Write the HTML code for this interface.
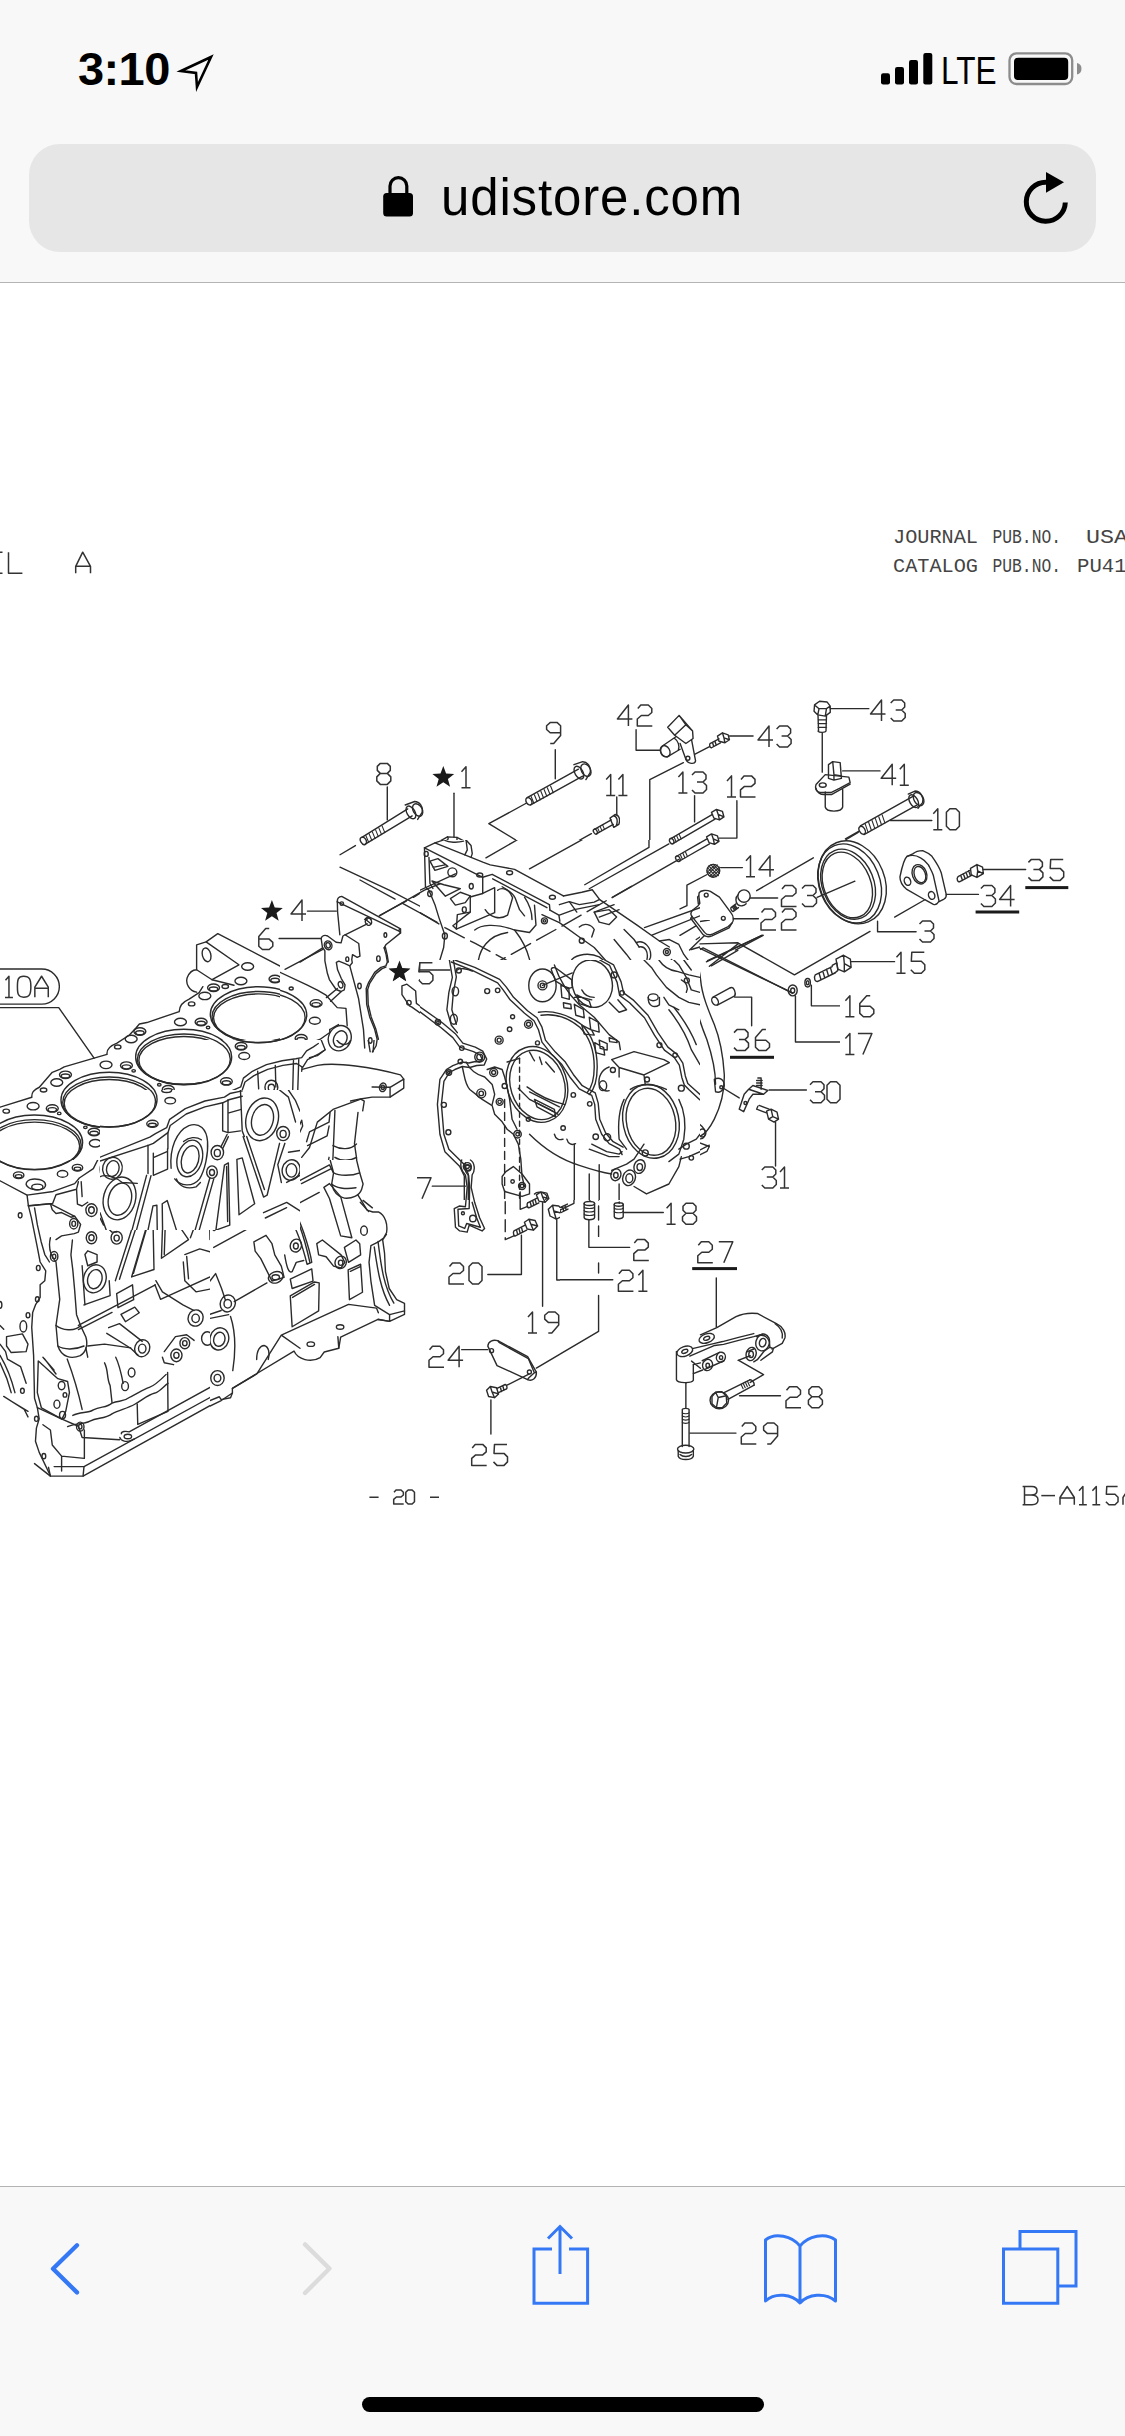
<!DOCTYPE html>
<html><head><meta charset="utf-8">
<style>
html,body{margin:0;padding:0;}
body{width:1125px;height:2436px;position:relative;overflow:hidden;background:#fff;font-family:"Liberation Sans",sans-serif;}
.top{position:absolute;left:0;top:0;width:1125px;height:282px;background:#f8f8f8;}
.sep1{position:absolute;left:0;top:282px;width:1125px;height:1px;background:#b4b4b4;}
.url{position:absolute;left:29px;top:144px;width:1067px;height:108px;border-radius:31px;background:#e6e6e6;}
.time{position:absolute;left:78px;top:41px;font-size:47px;font-weight:bold;color:#000;letter-spacing:-0.6px;}
.lte{position:absolute;left:941px;top:50px;font-size:38px;color:#000;transform:scaleX(0.83);transform-origin:0 0;}
.urltext{position:absolute;left:441px;top:168px;font-size:51px;color:#000;letter-spacing:0.85px;}
.bot{position:absolute;left:0;top:2186px;width:1125px;height:250px;background:#f8f8f8;}
.sep2{position:absolute;left:0;top:2186px;width:1125px;height:1px;background:#b4b4b4;}
.home{position:absolute;left:362px;top:2397px;width:402px;height:15px;border-radius:8px;background:#000;}
svg{position:absolute;left:0;top:0;}
.mono{font-family:"Liberation Mono",monospace;}
</style></head>
<body>
<div class="top"></div>
<div class="sep1"></div>
<div class="url"></div>
<div class="time">3:10</div>
<div class="lte">LTE</div>
<div class="urltext">udistore.com</div>
<div class="bot"></div>
<div class="sep2"></div>
<div class="home"></div>
<svg width="1125" height="2436" viewBox="0 0 1125 2436">
<!-- status bar icons -->
<path d="M181 71 L211 57 L197 87 L196 73 Z" fill="none" stroke="#000" stroke-width="2.6" stroke-linejoin="miter"/>
<rect x="881" y="73.3" width="9" height="11.1" rx="2.2" fill="#000"/>
<rect x="895" y="67.1" width="9" height="17.3" rx="2.2" fill="#000"/>
<rect x="909" y="60" width="9" height="24.4" rx="2.2" fill="#000"/>
<rect x="923.3" y="52.9" width="9" height="31.5" rx="2.2" fill="#000"/>
<rect x="1009.5" y="53.3" width="62.7" height="30.7" rx="7" fill="none" stroke="#8c8c8c" stroke-width="2.3"/>
<rect x="1014" y="57.8" width="54.2" height="22.2" rx="4" fill="#000"/>
<path d="M1077 63 Q1081.5 64 1081.5 68.7 Q1081.5 73.4 1077 74.4 Z" fill="#8c8c8c"/>
<!-- lock -->
<rect x="383.2" y="192.9" width="29.8" height="23.6" rx="3.5" fill="#000"/>
<path d="M390 194 V186 A8.3 8.3 0 0 1 406.8 186 V194" fill="none" stroke="#000" stroke-width="3.2"/>
<!-- reload -->
<path d="M1065.3 202.5 A19.5 19.5 0 1 1 1046 182.3" fill="none" stroke="#000" stroke-width="5"/>
<path d="M1046 172 L1064 182.3 L1046 192.8 Z" fill="#000"/>
<!-- bottom toolbar -->
<path d="M77 2245.3 L53 2268.8 L77 2292.4" fill="none" stroke="#3478f6" stroke-width="4.3" stroke-linecap="round" stroke-linejoin="round"/>
<path d="M305 2244.4 L329.5 2268.6 L305 2293" fill="none" stroke="#dcdcdc" stroke-width="4.3" stroke-linecap="round" stroke-linejoin="round"/>
<path d="M552 2249 H534 V2303.2 H587.6 V2249 H569" fill="none" stroke="#3478f6" stroke-width="3"/>
<path d="M560 2274 V2226.5 M548 2238.5 L560 2226.5 L572 2238.5" fill="none" stroke="#3478f6" stroke-width="3"/>
<path d="M800 2246 C792 2236 775 2232 765.5 2240 V2301 C775 2292 792 2294 800 2303 C808 2294 825 2292 835.5 2301 V2240 C825 2232 808 2236 800 2246 Z M800 2246 V2303" fill="none" stroke="#3478f6" stroke-width="3" stroke-linejoin="round"/>
<rect x="1003.5" y="2249" width="54.3" height="54.3" fill="none" stroke="#3478f6" stroke-width="3"/>
<path d="M1020 2248.5 V2231.5 H1076 V2286 H1059" fill="none" stroke="#3478f6" stroke-width="3"/>
<defs><style>
svg *{vector-effect:non-scaling-stroke;}
.l{fill:none;stroke:#2b2b2b;stroke-width:1.4;vector-effect:non-scaling-stroke;stroke-linejoin:round;stroke-linecap:round;}
.m{fill:none;stroke:#2b2b2b;stroke-width:1.1;vector-effect:non-scaling-stroke;stroke-linejoin:round;stroke-linecap:round;}
.t{fill:none;stroke:#333;stroke-width:1.5;vector-effect:non-scaling-stroke;stroke-linejoin:round;stroke-linecap:butt;}
.f{fill:#2b2b2b;stroke:none;}
.w{fill:#fff;stroke:#2b2b2b;stroke-width:1.4;vector-effect:non-scaling-stroke;stroke-linejoin:round;}
</style>
<clipPath id="c_a2_0_1160"></clipPath>
<clipPath id="c_a3_280_1160"><rect x="420" y="1230" width="140.0" height="170.0"/><rect x="420" y="1200" width="140.0" height="30"/></clipPath>
<clipPath id="c_a4_0_1380"><rect x="0.0" y="1490" width="560.0" height="30.0"/><rect x="420" y="1400.0" width="140.0" height="90.0"/></clipPath>
<clipPath id="c_a_0_920"><rect x="0.0" y="920.0" width="280.0" height="120.0"/><rect x="0.0" y="1040" width="200.0" height="50"/><rect x="0.0" y="1090" width="100.0" height="70.0"/></clipPath>
<clipPath id="c_b_280_920"><rect x="280.0" y="920.0" width="140.0" height="40.0"/><rect x="280.0" y="960" width="140.0" height="80"/></clipPath>
<clipPath id="c_c2_560_1100"><rect x="560.0" y="1200" width="280.0" height="200.0"/><rect x="700" y="1160.0" width="140.0" height="40.0"/></clipPath>
<clipPath id="c_c_560_920"><rect x="700" y="920.0" width="140.0" height="40.0"/><rect x="700" y="960" width="140.0" height="200.0"/></clipPath>
<clipPath id="c_e_340_690"><rect x="280.0" y="680.0" width="340.0" height="160.0"/><rect x="280.0" y="840" width="140.0" height="80.0"/></clipPath>
<clipPath id="c_f_600_690"><rect x="620.0" y="680.0" width="280.0" height="160.0"/><rect x="700" y="840" width="200.0" height="80.0"/></clipPath>
<clipPath id="c_k_420_960"><rect x="420.0" y="960.0" width="280.0" height="240.0"/></clipPath>
<clipPath id="c_m_200_1040"><rect x="200.0" y="1040.0" width="220.0" height="50.0"/><rect x="300" y="1090" width="120.0" height="70"/></clipPath>
<clipPath id="c_n_420_830"><rect x="420.0" y="840.0" width="280.0" height="120.0"/></clipPath>
<clipPath id="c_s1_0_1150"><rect x="0.0" y="1230" width="210.0" height="260.0"/><rect x="0.0" y="1160.0" width="100.0" height="70.0"/></clipPath>
<clipPath id="c_s2_210_1150"><rect x="210.0" y="1230" width="210.0" height="260.0"/><rect x="300" y="1160.0" width="120.0" height="70.0"/></clipPath>
<clipPath id="c_u_100_1090"><rect x="100.0" y="1090.0" width="200.0" height="140.0"/></clipPath>
</defs>
<g clip-path="url(#c_a2_0_1160)"><g transform="translate(0.0,1160.0) scale(0.248889)"><!-- bore A bottom -->
<ellipse class="l" cx="138" cy="-72" rx="193.5" ry="111"/>
<ellipse class="l" cx="139" cy="-63" rx="187" ry="102"/>
<ellipse class="l" cx="139" cy="-59" rx="181" ry="96"/>
<ellipse class="l" cx="75" cy="62" rx="24" ry="15"/><ellipse class="l" cx="75" cy="67" rx="17" ry="8"/>
<ellipse class="l" cx="310" cy="25" rx="24" ry="15"/><ellipse class="l" cx="310" cy="30" rx="17" ry="8"/>
<ellipse class="l" cx="250" cy="55" rx="24" ry="15"/>
<ellipse class="l" cx="148" cy="98" rx="45" ry="28" transform="rotate(-15 148 98)"/>
<ellipse class="l" cx="150" cy="102" rx="25" ry="14" transform="rotate(-15 150 102)"/>
<!-- deck front edge -->
<path class="l" d="M0 82 L105 140 L215 122 L305 92 L370 55 L390 0"/>
<path class="l" d="M105 140 L112 188 L210 190 L222 160 L310 140 L325 120 L340 80"/>
<path class="l" d="M112 188 L122 292 L150 412 L162 470 L182 512 L172 560 L135 592 L128 700 L138 964"/>
<path class="l" d="M135 200 L150 290 L175 400 L200 420 L215 392 L240 380 L240 330 L300 300 L320 260 L310 230 L290 220 L250 240 L215 200 L210 190"/>
<path class="l" d="M240 330 L250 420 L245 500 L265 560 L300 660 L305 760 L270 800 L230 790 L205 720 L215 640 L200 560"/>
<path class="l" d="M290 330 L300 420 L315 520 L330 660 L330 740 L345 800"/>
<path class="l" d="M205 720 C220 700 250 690 285 690 L315 710"/>
<ellipse class="l" cx="370" cy="205" rx="20" ry="26"/><ellipse class="l" cx="370" cy="205" rx="10" ry="13"/>
<ellipse class="l" cx="372" cy="315" rx="20" ry="26"/><ellipse class="l" cx="372" cy="315" rx="10" ry="13"/>
<ellipse class="l" cx="298" cy="262" rx="12" ry="18"/>
<ellipse class="l" cx="222" cy="385" rx="12" ry="18"/>
<ellipse class="l" cx="155" cy="432" rx="8" ry="12"/><ellipse class="l" cx="80" cy="220" rx="7" ry="11"/>
<ellipse class="l" cx="148" cy="555" rx="8" ry="12"/>
<ellipse class="l" cx="385" cy="470" rx="42" ry="55" transform="rotate(15 385 470)"/>
<ellipse class="l" cx="385" cy="472" rx="28" ry="38" transform="rotate(15 385 472)"/>
<path class="l" d="M340 420 L345 580 L440 545 L435 500"/>
<path class="l" d="M335 330 L350 410 L395 400 L380 350"/>
<!-- big oval boss top -->
<ellipse class="l" cx="480" cy="160" rx="70" ry="100" transform="rotate(15 480 160)"/>
<ellipse class="l" cx="482" cy="162" rx="50" ry="75" transform="rotate(15 482 162)"/>
<ellipse class="l" cx="455" cy="35" rx="30" ry="35"/><ellipse class="l" cx="455" cy="35" rx="18" ry="22"/>
<ellipse class="l" cx="465" cy="318" rx="22" ry="28"/><ellipse class="l" cx="465" cy="318" rx="10" ry="14"/>
<path class="l" d="M390 240 L430 300 L440 340 L470 345"/>
<!-- ribs -->
<path class="l" d="M455 485 L600 40 L612 0 M480 492 L620 60 L628 0"/>
<path class="l" d="M528 470 L605 188 L612 438 Z"/>
<path class="l" d="M650 398 L658 170 L718 380 Z"/>
<path class="l" d="M700 260 L640 20 M720 260 L660 20"/>
<path class="l" d="M760 318 L838 55 L845 300 Z"/>
<path class="l" d="M830 290 L905 25 L915 278 Z"/>
<path class="l" d="M950 222 L1015 0 L1022 205 Z"/>
<path class="l" d="M1040 160 L1100 0 M1060 150 L1125 0"/>
<ellipse class="l" cx="850" cy="42" rx="22" ry="28"/><ellipse class="l" cx="850" cy="42" rx="11" ry="14"/>
<ellipse class="l" cx="760" cy="25" rx="50" ry="60"/>
<path class="l" d="M700 60 C720 100 760 110 800 100"/>
<!-- crankcase band -->
<path class="l" d="M310 665 L650 495 L860 385 L1125 240"/>
<path class="l" d="M320 690 L440 640 M600 560 L650 540 L880 430 L1125 300"/>
<path class="l" d="M940 560 L1125 470"/>
<path class="l" d="M620 430 L650 540 L760 620 L800 610 M640 430 C640 470 660 520 720 560"/>
<rect class="l" x="470" y="520" width="60" height="55" transform="rotate(-20 500 547)"/>
<rect class="l" x="485" y="595" width="70" height="35" transform="rotate(-20 520 612)"/>
<!-- bearing caps -->
<path class="l" d="M738 385 L790 368 L810 470 L840 520 L870 560 L905 545 M738 385 L745 480 L780 520 L830 570"/>
<path class="l" d="M800 340 L840 330 L860 420 L890 500 L920 540"/>
<ellipse class="l" cx="912" cy="570" rx="28" ry="32" transform="rotate(20 912 570)"/><ellipse class="l" cx="912" cy="572" rx="15" ry="18" transform="rotate(20 912 572)"/>
<ellipse class="l" cx="790" cy="638" rx="28" ry="32" transform="rotate(20 790 638)"/><ellipse class="l" cx="790" cy="640" rx="15" ry="18" transform="rotate(20 790 640)"/>
<ellipse class="l" cx="572" cy="762" rx="28" ry="32" transform="rotate(20 572 762)"/><ellipse class="l" cx="572" cy="764" rx="15" ry="18" transform="rotate(20 572 764)"/>
<ellipse class="l" cx="880" cy="720" rx="30" ry="36" transform="rotate(20 880 720)"/><ellipse class="l" cx="880" cy="722" rx="17" ry="22" transform="rotate(20 880 722)"/>
<ellipse class="l" cx="835" cy="722" rx="18" ry="25"/>
<ellipse class="l" cx="738" cy="735" rx="12" ry="16"/><ellipse class="l" cx="708" cy="792" rx="14" ry="18"/>
<ellipse class="l" cx="875" cy="870" rx="26" ry="30" transform="rotate(20 875 870)"/><ellipse class="l" cx="876" cy="872" rx="13" ry="16" transform="rotate(20 876 872)"/>
<path class="l" d="M430 680 L540 730 L560 770 M440 700 L540 745 L545 790 M350 750 L470 730 L540 790"/>
<path class="l" d="M660 720 L720 690 L760 720 L760 780 L720 810 L680 800 L650 760 Z"/>
<path class="l" d="M800 850 L850 820 L900 860 L890 900 L845 905 L805 880 Z"/>
<path class="l" d="M730 620 L755 700 M840 610 C870 620 900 640 920 620"/>
<path class="l" d="M930 620 C960 680 960 760 940 840 M945 630 C970 700 968 770 955 840"/>
<path class="l" d="M1065 310 C1040 330 1030 360 1050 390 L1080 430 C1100 460 1125 460 1125 440 M1090 300 L1125 290 M1060 200 L1125 180"/>
<ellipse class="l" cx="1100" cy="465" rx="22" ry="18"/><ellipse class="l" cx="1100" cy="465" rx="11" ry="9"/>
<ellipse class="l" cx="1060" cy="775" rx="22" ry="30"/>
<!-- oil pan rail -->
<path class="l" d="M740 964 L1125 790 M770 964 L1125 812 M930 905 L940 930 M870 940 L880 964"/>
<!-- lower left wavy -->
<path class="l" d="M430 964 C440 920 420 880 445 850 C470 830 460 800 490 790 L520 800 M520 830 C540 860 560 850 600 840 C620 850 660 830 680 860 L700 964"/>
<path class="l" d="M560 964 C575 930 600 920 640 900 L660 940"/>
<ellipse class="l" cx="530" cy="855" rx="15" ry="18"/><ellipse class="l" cx="505" cy="910" rx="12" ry="16"/>
<path class="l" d="M180 790 C200 830 230 870 270 870 L320 964 M180 800 L220 964"/>
<ellipse class="l" cx="255" cy="905" rx="18" ry="22"/><ellipse class="l" cx="255" cy="905" rx="8" ry="11"/>
<path class="l" d="M0 580 C30 590 60 600 70 640 M20 600 C40 620 60 640 70 660"/>
<ellipse class="l" cx="100" cy="670" rx="18" ry="30"/>
<path class="l" d="M0 780 C40 830 80 900 95 964 M0 820 C30 860 60 920 70 964 M30 700 L70 690 L90 720 L95 760 L60 770 L40 740 Z"/>
<ellipse class="l" cx="110" cy="615" rx="8" ry="12"/><ellipse class="l" cx="90" cy="930" rx="8" ry="12"/>
<path class="l" d="M0 520 C10 560 20 600 5 640"/>
</g></g>
<g clip-path="url(#c_a3_280_1160)"><g transform="translate(280.0,1160.0) scale(0.248889)"><!-- block right end bottom -->
<ellipse class="l" cx="45" cy="38" rx="40" ry="46" transform="rotate(15 45 38)"/>
<ellipse class="l" cx="47" cy="40" rx="22" ry="28" transform="rotate(15 47 40)"/>
<path class="l" d="M85 10 L150 0 M0 100 L60 85 L90 60"/>
<path class="l" d="M210 0 L215 70 C230 110 262 120 300 110 L330 100 M292 0 L300 60 L322 92"/>
<path class="l" d="M175 110 L182 160 L222 270 L248 302 M197 100 L240 212 L262 300"/>
<path class="l" d="M60 182 L152 132"/>
<path class="l" d="M40 175 C80 230 108 320 118 415 M60 170 C100 230 124 320 132 410"/>
<path class="l" d="M330 100 L348 195 L400 212 L430 255 L436 300 L415 316 L392 322"/>
<path class="l" d="M352 210 L365 330 L382 480 L392 590 M395 320 L412 470 L440 590"/>
<path class="l" d="M345 300 L360 420 L375 560"/>
<path class="l" d="M382 590 L495 598 L500 640 L440 652 L400 636 L382 590 M440 620 L500 600 M440 620 L440 652"/>
<ellipse class="l" cx="338" cy="280" rx="12" ry="18"/>
<path class="l" d="M0 712 L382 608 M0 742 L440 652"/>
<path class="l" d="M0 800 L100 790 L180 762 L240 745 L330 700 L440 652 M0 820 L100 808 L180 780 L240 765 L330 720"/>
<path class="l" d="M230 700 V745"/>
<ellipse class="l" cx="240" cy="670" rx="14" ry="10"/><ellipse class="l" cx="125" cy="740" rx="14" ry="10"/>
<!-- pipes -->
<ellipse class="l" cx="62" cy="345" rx="22" ry="30" transform="rotate(20 62 345)"/><ellipse class="l" cx="62" cy="347" rx="11" ry="15"/>
<ellipse class="l" cx="238" cy="410" rx="22" ry="28" transform="rotate(20 238 410)"/><ellipse class="l" cx="238" cy="412" rx="11" ry="14"/>
<path class="l" d="M45 318 L0 330 M75 372 L0 400 M150 335 L220 385 M165 318 L255 395"/>
<path class="l" d="M150 335 C140 350 150 370 170 380 L225 435"/>
<!-- windows -->
<path class="l" d="M42 480 L128 440 L135 495 L50 522 Z M55 478 L120 450 L122 490 L58 510"/>
<path class="l" d="M40 540 L150 490 L160 615 L45 665 Z M50 550 L142 505 L150 608 L55 652"/>
<path class="l" d="M268 440 L325 420 L330 545 L275 560 Z"/>
<path class="l" d="M255 350 L300 325 L322 385 L275 400 Z"/>
<path class="l" d="M0 470 L20 460 M0 500 L30 485"/>
<!-- gasket 7 end -->
<path class="l" d="M730 0 C722 20 728 45 745 60 L752 110 L745 188 L720 185 L700 195 L705 270 L722 285 L752 290 L760 262 L812 285 L822 275 L802 232 L782 170 L768 110 L772 60 C786 40 782 10 765 0"/>
<path class="l" d="M745 12 C740 30 745 50 758 62 L762 110 L760 195 L715 198 L718 265 L742 275 L750 255 L805 270 L790 232 L772 170"/>
<circle class="l" cx="756" cy="32" r="12"/><circle class="l" cx="775" cy="235" r="13"/><circle class="l" cx="735" cy="214" r="6"/>
<path class="l" d="M612 105 H745"/>
<!-- cover bottom -->
<path class="l" d="M905 0 V58 L895 78 L900 95 L960 122 L1000 140 L1020 100 L1005 60 L990 0 M925 0 V55 L915 80"/>
<circle class="l" cx="935" cy="86" r="7"/>
<ellipse class="l" cx="975" cy="105" rx="15" ry="18"/>
<path class="l" d="M940 0 L945 40 M960 0 C965 40 980 70 1005 80"/>
<path class="l" d="M905 95 V320 L945 302" stroke-dasharray="12 6"/>
<path class="l" d="M965 128 V198 L995 186"/>
<!-- bolt 19 -->
<path class="l" d="M995 172 L1035 152 M1000 192 L1040 172 M995 172 C990 180 995 194 1000 192 M1005 168 L1010 187 M1015 163 L1020 182 M1025 158 L1030 177"/>
<path class="l" d="M1030 140 L1048 128 L1072 133 L1080 155 L1065 170 L1040 165 Z M1048 128 L1055 148 L1080 155 M1055 148 L1065 170"/>
<path class="l" d="M1055 172 V588"/>
<!-- bolt 20 -->
<path class="l" d="M940 285 L985 262 M946 305 L991 282 M940 285 C935 293 940 307 946 305 M950 280 L955 300 M960 275 L965 295 M970 270 L975 290"/>
<path class="l" d="M982 250 L1000 238 L1025 243 L1035 265 L1018 282 L993 277 Z M1000 238 L1008 258 L1035 265 M1008 258 L1018 282"/>
<path class="l" d="M970 302 V460 H835"/>
<!-- bolt 21 head -->
<path class="l" d="M1078 198 L1095 182 L1120 185 L1125 190 M1078 198 L1085 225 L1110 238 L1125 230 M1095 182 L1100 205 L1125 212 M1100 205 L1110 238"/>
<path class="l" d="M1112 240 V482 H1125"/>
<!-- plate 24 -->
<path class="l" d="M835 748 C836 728 856 720 875 726 L995 790 L1030 852 C1032 878 1012 890 995 882 L872 826 Z"/>
<path class="l" d="M875 726 L880 733 L998 798 L1022 855 L1030 852 M995 882 L1000 875 L1022 855"/>
<circle class="l" cx="850" cy="766" r="8"/><circle class="l" cx="1002" cy="852" r="8"/>
<path class="l" d="M730 762 H835"/>
<!-- bolt 25 -->
<path class="l" d="M830 925 L845 910 L870 915 L878 940 L862 955 L838 950 Z M845 910 L852 932 L878 940 M852 932 L862 955"/>
<path class="l" d="M872 918 L905 902 M878 935 L910 920 M885 912 L890 930 M895 907 L900 925 M905 902 C912 905 914 915 910 920"/>
<path class="l" d="M912 905 L1000 860 M1030 836 L1125 780"/>
</g></g>
<g clip-path="url(#c_a4_0_1380)"><g transform="translate(0.0,1380.0) scale(0.373333)"><path class="l" d="M92 235 L142 262 H222 L690 -2"/>
<path class="l" d="M135 232 H225 L488 80 L600 30 L620 40 L690 2"/>
<path class="l" d="M222 262 V250 L225 232 M142 262 L135 232"/>
<path class="l" d="M320 150 C318 140 338 136 355 144 L488 78 M320 150 C325 162 345 168 360 160"/>
<ellipse class="l" cx="343" cy="152" rx="12" ry="7"/>
<path class="l" d="M92 235 L95 200 L120 190 L110 130 L85 82 L60 50 L22 20 L10 0"/>
<path class="l" d="M130 225 L160 225 L160 200 L150 132 L120 120 L100 72"/>
<path class="l" d="M210 230 L225 120 M165 225 L175 130"/>
<path class="l" d="M100 70 C120 80 150 90 165 110 C180 125 200 130 212 120 C232 100 260 95 282 80 C302 70 322 60 342 55 C372 45 400 40 420 30 L452 18"/>
<path class="l" d="M160 100 C180 108 200 104 222 92 C245 80 262 78 282 65 C305 52 330 46 352 40 C380 32 405 25 430 15"/>
<path class="l" d="M365 62 L440 30 L446 96 L372 122 Z M372 110 L440 84"/>
<ellipse class="l" cx="215" cy="126" rx="10" ry="14"/><ellipse class="l" cx="165" cy="98" rx="8" ry="11"/>
<ellipse class="l" cx="155" cy="66" rx="8" ry="11"/><ellipse class="l" cx="115" cy="202" rx="7" ry="10"/>
<ellipse class="l" cx="95" cy="104" rx="7" ry="10"/><ellipse class="l" cx="335" cy="15" rx="8" ry="11"/>
<ellipse class="l" cx="60" cy="30" rx="7" ry="10"/>
<path class="l" d="M20 0 L30 40 M100 0 L95 70 M210 0 C215 30 220 60 218 90"/>
</g></g>
<g clip-path="url(#c_a_0_920)"><g transform="translate(0.0,920.0) scale(0.248889)"><path class="l" d="M0 197 H168 A70.5 70.5 0 0 1 168 338 H0"/>
<path class="t" d="M22 242 L36 226 V310 M20 311 H52 M95 226 C72 226 70 240 70 268 C70 296 72 310 95 310 C120 310 124 296 124 268 C124 240 120 226 95 226 Z M140 310 V270 L167 226 L194 270 V310 M140 274 H194"/>
<path class="l" d="M0 352 H236 L378 555"/>
<path class="l" d="M0 752 L128 712 C126 695 132 684 158 672 L210 612 L240 600 L258 590 L378 555 L430 540 C428 522 436 508 470 495 L520 462 L548 432 L560 418 L590 412 L720 368 C722 345 730 332 760 318 L800 292 L815 268"/>
<path class="l" d="M790 290 C760 285 745 255 752 232 C760 212 775 200 790 200 L790 100 L828 88 L875 55 L1125 185"/>
<path class="l" d="M828 88 L960 180 L852 240 L790 200"/>
<ellipse class="l" cx="830" cy="140" rx="17" ry="28" transform="rotate(-15 830 140)"/>
<path class="l" d="M852 240 L940 262"/>
<!-- bores -->
<g id="boreset">
<ellipse class="l" cx="438.5" cy="723.5" rx="193.5" ry="111.5"/>
<ellipse class="l" cx="439" cy="733" rx="187" ry="102"/>
<ellipse class="l" cx="439" cy="737" rx="181" ry="96"/>
<ellipse class="l" cx="738.5" cy="550" rx="193.5" ry="111"/>
<ellipse class="l" cx="739" cy="560" rx="187" ry="102"/>
<ellipse class="l" cx="739" cy="564" rx="181" ry="96"/>
<ellipse class="l" cx="1038.5" cy="379" rx="193.5" ry="111"/>
<ellipse class="l" cx="1039" cy="389" rx="187" ry="102"/>
<ellipse class="l" cx="1039" cy="393" rx="181" ry="96"/>
<ellipse class="l" cx="138.5" cy="894.5" rx="193.5" ry="111"/>
<ellipse class="l" cx="139" cy="904" rx="187" ry="102"/>
<ellipse class="l" cx="139" cy="908" rx="181" ry="96"/>
</g>
<!-- bolt holes double ring -->
<g class="l">
<ellipse cx="263" cy="622" rx="24" ry="15"/><ellipse cx="263" cy="627" rx="17" ry="8"/>
<ellipse cx="210" cy="757" rx="24" ry="15"/><ellipse cx="210" cy="762" rx="17" ry="8"/>
<ellipse cx="508" cy="585" rx="24" ry="15"/><ellipse cx="508" cy="590" rx="17" ry="8"/>
<ellipse cx="562" cy="448" rx="24" ry="15"/><ellipse cx="562" cy="453" rx="17" ry="8"/>
<ellipse cx="808" cy="410" rx="24" ry="15"/><ellipse cx="808" cy="415" rx="17" ry="8"/>
<ellipse cx="858" cy="272" rx="24" ry="15"/><ellipse cx="858" cy="277" rx="17" ry="8"/>
<ellipse cx="1105" cy="237" rx="24" ry="15"/><ellipse cx="1105" cy="242" rx="17" ry="8"/>
<ellipse cx="676" cy="680" rx="24" ry="15"/><ellipse cx="676" cy="685" rx="17" ry="8"/>
<ellipse cx="378" cy="852" rx="24" ry="15"/><ellipse cx="378" cy="857" rx="17" ry="8"/>
<ellipse cx="612" cy="820" rx="24" ry="15"/><ellipse cx="612" cy="825" rx="17" ry="8"/>
<ellipse cx="910" cy="648" rx="24" ry="15"/><ellipse cx="910" cy="653" rx="17" ry="8"/>
<ellipse cx="972" cy="505" rx="24" ry="15"/><ellipse cx="972" cy="510" rx="17" ry="8"/>
<ellipse cx="228" cy="653" rx="24" ry="15"/><ellipse cx="133" cy="748" rx="24" ry="15"/>
<ellipse cx="426" cy="582" rx="24" ry="15"/><ellipse cx="527" cy="478" rx="24" ry="15"/>
<ellipse cx="725" cy="410" rx="24" ry="15"/><ellipse cx="823" cy="305" rx="24" ry="15"/>
<ellipse cx="968" cy="245" rx="24" ry="15"/><ellipse cx="995" cy="187" rx="24" ry="15"/>
<ellipse cx="685" cy="725" rx="24" ry="15"/><ellipse cx="383" cy="897" rx="24" ry="15"/>
<ellipse cx="978" cy="548" rx="24" ry="15"/>
<ellipse cx="25" cy="768" rx="13" ry="8"/><ellipse cx="175" cy="683" rx="13" ry="8"/>
<ellipse cx="473" cy="510" rx="13" ry="8"/><ellipse cx="770" cy="337" rx="13" ry="8"/>
<ellipse cx="905" cy="267" rx="13" ry="8"/>
<ellipse cx="238" cy="777" rx="7" ry="5"/><ellipse cx="537" cy="606" rx="7" ry="5"/>
<ellipse cx="836" cy="432" rx="7" ry="5"/><ellipse cx="640" cy="662" rx="7" ry="5"/>
<ellipse cx="343" cy="833" rx="7" ry="5"/><ellipse cx="940" cy="488" rx="7" ry="5"/>
</g>
<!-- deck front edge and block face -->
<path class="l" d="M410 964 L470 930 L560 905 L618 872 L665 846 L668 800 L720 772 L900 702 L975 664 L1020 618 L1125 560"/>
<path class="l" d="M420 964 L478 940 L565 915 L628 885 L675 858 L680 812 L730 785 L905 718 L980 680 L1030 632 L1125 578"/>
<path class="l" d="M620 875 V964 M645 862 V964 M900 705 L902 850 M925 695 L928 860"/>
<path class="l" d="M700 964 C715 880 760 830 800 820 C830 818 842 845 838 880"/>
<path class="l" d="M940 860 L1000 964 M975 665 L980 860 M1050 600 L1060 640"/>
<ellipse class="l" cx="1090" cy="680" rx="28" ry="38" transform="rotate(20 1090 680)"/>
<ellipse class="l" cx="1090" cy="682" rx="14" ry="22" transform="rotate(20 1090 682)"/>
<ellipse class="l" cx="1055" cy="800" rx="50" ry="72" transform="rotate(15 1055 800)"/>
<ellipse class="l" cx="1058" cy="802" rx="38" ry="58" transform="rotate(15 1058 802)"/>
<path class="l" d="M1000 760 C990 830 1000 880 1050 890 L1125 880"/>
<ellipse class="l" cx="875" cy="935" rx="25" ry="32" transform="rotate(20 875 935)"/>
<ellipse class="l" cx="877" cy="937" rx="12" ry="18" transform="rotate(20 877 937)"/>
</g></g>
<g clip-path="url(#c_b_280_920)"><g transform="translate(280.0,920.0) scale(0.248889)"><path class="l" d="M20 198 L172 118"/>
<!-- star 5 -->
<path class="f" d="M480 168 L490 198 L522 198 L496 216 L506 246 L480 228 L454 246 L464 216 L438 198 L470 198 Z"/>
<path class="t" d="M612 172 H562 L558 208 C575 198 610 198 612 222 C614 246 585 252 558 240 M620 200 H690"/>
<!-- gasket 5 -->
<path class="l" d="M490 265 L510 258 L545 285 L548 335 L640 402 L760 492 L800 515 C825 530 838 560 825 578 C810 592 790 582 770 575 L740 590 L700 592 L682 605 L668 648 L660 700 L656 752 L668 850 L690 900 L722 964"/>
<path class="l" d="M490 268 L490 300 L520 345 L530 350 L625 418 L748 508 L780 528 L800 560 L785 570 L745 565 L720 578 L688 585 L662 600 L650 650 L645 700 L642 752 L655 852 L676 905 L705 964"/>
<circle class="l" cx="518" cy="332" r="9"/>
<circle class="l" cx="632" cy="412" r="11"/>
<circle class="l" cx="735" cy="518" r="8"/>
<circle class="l" cx="800" cy="548" r="18"/>
<circle class="l" cx="725" cy="572" r="9"/>
<circle class="l" cx="680" cy="612" r="10"/>
<circle class="l" cx="660" cy="745" r="10"/>
<circle class="l" cx="680" cy="860" r="10"/>
<!-- block right end -->
<ellipse class="l" cx="-86" cy="382" rx="193.5" ry="111"/>
<ellipse class="l" cx="-86" cy="392" rx="187" ry="102"/>
<ellipse class="l" cx="145" cy="335" rx="24" ry="15"/><ellipse class="l" cx="145" cy="340" rx="17" ry="8"/>
<ellipse class="l" cx="140" cy="405" rx="22" ry="14"/>
<ellipse class="l" cx="85" cy="475" rx="24" ry="15"/><ellipse class="l" cx="85" cy="480" rx="17" ry="8"/>
<ellipse class="l" cx="45" cy="275" rx="8" ry="6"/>
<path class="l" d="M0 210 L110 262 L150 282 L185 302 L230 352 L265 355 L270 425"/>
<path class="l" d="M0 528 L60 505 L100 500 L160 480 L200 452 L200 440 M0 545 L95 520 L165 500"/>
<ellipse class="l" cx="240" cy="475" rx="45" ry="52" transform="rotate(25 240 475)"/>
<ellipse class="l" cx="242" cy="478" rx="26" ry="34" transform="rotate(25 242 478)"/>
<path class="l" d="M200 440 L235 420 M148 500 L165 525 L185 530"/>
<!-- ear -->
<path class="l" d="M95 600 L205 585 L330 555 L372 530 L492 615 L496 668 L440 702"/>
<path class="l" d="M280 498 L490 618 L440 640 L440 702 L420 704 C300 660 200 640 100 650"/>
<ellipse class="l" cx="414" cy="675" rx="14" ry="18"/><ellipse class="l" cx="414" cy="675" rx="7" ry="10"/>
<path class="l" d="M100 600 L95 964 M60 560 L55 964 M0 540 L10 964"/>
<path class="l" d="M225 740 C260 760 300 770 330 765 L330 964 M210 760 L205 964 M250 780 L240 964"/>
<path class="l" d="M140 700 C110 780 120 860 160 964"/>
<ellipse class="l" cx="18" cy="850" rx="20" ry="28"/>
<ellipse class="l" cx="18" cy="850" rx="10" ry="15"/>
<!-- front cover left part -->
<path class="l" d="M640 0 L650 45 L655 80 L640 100 L630 130 L660 140 L670 175 L680 200 L690 240 L700 290 L690 330 L680 390 L700 420 L710 460 L700 520"/>
<path class="l" d="M690 0 L700 60 L690 90 L700 120"/>
<ellipse class="l" cx="660" cy="62" rx="10" ry="12"/><ellipse class="l" cx="705" cy="285" rx="10" ry="14"/>
<ellipse class="l" cx="697" cy="402" rx="18" ry="24"/>
<path class="l" d="M688 168 L710 165 L770 200 L850 240 L880 265 L905 300 L930 350 L945 385 L985 400 L1010 440 L1040 470 L1080 500 L1125 520"/>
<path class="l" d="M700 185 L760 215 L840 255 L868 285 L890 330 L915 370 L960 395"/>
<circle class="l" cx="718" cy="205" r="9"/>
<circle class="l" cx="830" cy="285" r="9"/><circle class="l" cx="875" cy="285" r="9"/>
<circle class="l" cx="932" cy="385" r="8"/><circle class="l" cx="998" cy="412" r="14"/>
<circle class="l" cx="922" cy="437" r="9"/><circle class="l" cx="880" cy="488" r="15"/><circle class="l" cx="880" cy="488" r="7"/>
<circle class="l" cx="1035" cy="495" r="9"/>
<path class="l" d="M860 345 C870 380 860 420 870 460 M850 340 C860 380 850 420 858 460"/>
<path class="l" d="M800 0 C790 60 800 120 830 140 L900 180 L960 200 L985 215"/>
<path class="l" d="M760 0 L780 130 L800 190"/>
<path class="l" d="M830 190 L910 140 L975 100 M780 0 L1000 0"/>
<path class="l" d="M700 0 C750 20 820 40 900 40 L1000 30 L1125 40"/>
<path class="l" d="M990 0 C1020 20 1040 30 1125 25"/>
<ellipse class="l" cx="1060" cy="265" rx="55" ry="75"/>
<ellipse class="l" cx="1055" cy="265" rx="18" ry="22"/><ellipse class="l" cx="1055" cy="265" rx="9" ry="11"/>
<path class="l" d="M1060 265 L1125 230"/>
<path class="l" d="M1095 195 C1110 200 1120 205 1125 215"/>
<path class="l" d="M1040 380 C1070 360 1100 355 1125 360 M1040 390 C1070 372 1100 368 1125 372"/>
<path class="l" d="M860 600 C890 560 930 530 1000 520 C1060 515 1110 540 1125 560"/>
<path class="l" d="M960 555 L965 964 M958 555 L960 964" stroke-dasharray="6 5"/>
<path class="l" d="M905 600 L905 964 M880 560 L880 964" stroke-dasharray="6 5"/>
<ellipse class="l" cx="862" cy="610" rx="18" ry="20"/><ellipse class="l" cx="862" cy="610" rx="9" ry="10"/>
<ellipse class="l" cx="810" cy="700" rx="22" ry="25"/><ellipse class="l" cx="810" cy="700" rx="10" ry="13"/>
<circle class="l" cx="905" cy="665" r="9"/><circle class="l" cx="880" cy="730" r="9"/>
<circle class="l" cx="1000" cy="800" r="8"/><circle class="l" cx="955" cy="860" r="11"/>
<path class="l" d="M740 590 L745 660 L770 690 L790 725 L830 740 L860 760"/>
<path class="l" d="M950 680 L1050 760 L1100 820 M960 700 L1040 770 M1020 730 L1080 770"/>
<path class="l" d="M1005 520 L1020 560 L1050 570 L1080 600 L1100 620"/>
</g></g>
<g clip-path="url(#c_c2_560_1100)"><g transform="translate(560.0,1100.0) scale(0.248889)"><!-- cover bottom continuing -->
<ellipse class="l" cx="365" cy="67" rx="118" ry="140" transform="rotate(8 365 67)"/>
<ellipse class="l" cx="365" cy="72" rx="100" ry="125" transform="rotate(8 365 72)"/>
<path class="l" d="M205 300 C205 285 220 275 240 280 L292 250 L312 240 C332 235 346 250 346 270 L350 345 L336 376 L320 370 L270 340 L236 326 C216 326 205 316 205 300 Z"/>
<path class="l" d="M240 280 C260 290 262 318 245 325 M312 240 C330 250 336 280 320 292"/>
<ellipse class="l" cx="224" cy="303" rx="13" ry="17"/><ellipse class="l" cx="224" cy="303" rx="5" ry="7"/>
<ellipse class="l" cx="278" cy="316" rx="18" ry="23"/><ellipse class="l" cx="278" cy="316" rx="10" ry="13"/>
<ellipse class="l" cx="322" cy="268" rx="18" ry="23"/><ellipse class="l" cx="322" cy="268" rx="10" ry="13"/>
<path class="l" d="M346 376 L440 312 L490 246 L480 232 L520 200 L560 182 L600 190 L605 160 L575 122"/>
<path class="l" d="M480 232 L520 250 L600 215 L600 190 M520 200 L530 235"/>
<circle class="l" cx="512" cy="180" r="9"/><circle class="l" cx="522" cy="236" r="9"/><circle class="l" cx="572" cy="140" r="14"/><circle class="l" cx="572" cy="140" r="6"/>
<path class="l" d="M0 230 L150 296 L205 300 M60 180 L130 160 L232 200 L252 222 L240 240 L185 238"/>
<path class="l" d="M115 185 L230 235 M120 200 L225 245"/>
<path class="l" d="M290 250 L280 160 L270 180 M300 240 L290 170"/>
<path class="l" d="M0 150 L60 190 M0 120 C30 130 50 150 55 170"/>
<circle class="l" cx="45" cy="160" r="14"/><circle class="l" cx="145" cy="150" r="10"/><circle class="l" cx="245" cy="210" r="12"/>
<!-- dashed leaders -->
<path class="l" d="M155 265 V548" stroke-dasharray="14 6"/>
<path class="l" d="M120 300 V410 M238 345 V415" stroke-dasharray="10 6"/>
<path class="l" d="M56 200 V415 L0 442"/>
<!-- stud 2 -->
<ellipse class="l" cx="118" cy="416" rx="21" ry="8"/>
<path class="l" d="M97 416 V472 C100 484 136 484 139 472 V416"/>
<path class="m" d="M97 430 C100 438 136 438 139 430 M97 444 C100 452 136 452 139 444 M97 458 C100 466 136 466 139 458"/>
<path class="l" d="M116 482 V592 H280"/>
<!-- stud 18 -->
<ellipse class="l" cx="236" cy="420" rx="18" ry="7"/>
<path class="l" d="M218 420 V468 C221 480 251 480 254 468 V420"/>
<path class="m" d="M218 434 C221 441 251 441 254 434 M218 448 C221 455 251 455 254 448"/>
<path class="l" d="M256 452 H415"/>
<!-- bolt 21 head and thread -->
<path class="l" d="M-50 440 L-33 424 L-8 427 L2 450 L-12 468 L-38 463 Z M-33 424 L-22 446 L2 450 M-22 446 L-12 468"/>
<path class="l" d="M0 432 L30 418 M5 452 L32 438 M10 428 L15 447 M20 424 L25 442"/>
<!-- leader 21 -->
<path class="l" d="M0 722 H212"/>
<path class="l" d="M155 655 V700" stroke-dasharray="10 6"/>
<path class="l" d="M155 785 V930 L0 1021"/>
<!-- bracket 30 bottom / bolt 31 -->
<path class="l" d="M720 0 L722 45 L740 50 L768 10 L770 0"/>
<circle class="l" cx="747" cy="12" r="6"/>
<path class="l" d="M790 32 L828 48 M800 20 L838 36 M795 24 L792 34"/>
<path class="l" d="M828 42 L846 32 L872 42 L878 72 L860 86 L836 74 Z M846 32 L855 60 L836 74 M855 60 L878 72"/>
<path class="l" d="M866 88 V265"/>
<!-- bracket 27 top -->
<path class="l" d="M628 715 V912"/>
</g></g>
<g clip-path="url(#c_c_560_920)"><g transform="translate(560.0,920.0) scale(0.248889)"><!-- leaders/assembly lines -->
<path class="l" d="M588 168 L812 62 M600 186 L718 94"/>
<path class="l" d="M540 130 L575 112 L935 295"/>
<path class="l" d="M946 305 V490 H1125 M1010 262 V345 H1125"/>
<ellipse class="l" cx="935" cy="283" rx="18" ry="22"/><ellipse class="l" cx="935" cy="283" rx="8" ry="10"/>
<ellipse class="l" cx="995" cy="252" rx="11" ry="17"/><ellipse class="l" cx="995" cy="252" rx="5" ry="8"/>
<!-- pin 36 -->
<path class="l" d="M615 310 L685 272 M632 342 L702 305"/>
<ellipse class="l" cx="623" cy="326" rx="12" ry="17" transform="rotate(-30 623 326)"/>
<path class="l" d="M685 272 C700 268 708 295 702 305"/>
<path class="l" d="M702 310 H770 V425"/>
<!-- bracket 30 -->
<path class="l" d="M795 635 L808 635 L808 680 M790 645 H812 M790 655 H812 M790 665 H812"/>
<path class="l" d="M758 680 L775 665 L835 685 L818 700 Z M758 680 L740 700 L720 760 L738 770 L760 720 L775 700 L818 700"/>
<circle class="l" cx="745" cy="735" r="6"/>
<path class="l" d="M840 683 H990"/>
<!-- bolt 31 -->
<path class="l" d="M790 760 L830 775 M800 745 L840 760 M795 748 L790 760"/>
<path class="l" d="M830 768 L848 760 L872 772 L878 800 L860 812 L838 800 Z M848 760 L855 790 L838 800 M855 790 L878 800"/>
<path class="l" d="M866 812 V964"/>
<path class="l" d="M655 675 L720 715"/>
<!-- cover right edge -->
<path class="l" d="M520 120 C545 150 560 190 565 240 C570 300 595 360 620 420 C640 470 655 540 660 620 C662 690 650 740 620 800 C600 840 585 860 560 870"/>
<path class="l" d="M495 125 C515 170 535 230 540 300 C545 360 565 420 590 480 C610 540 625 600 625 660"/>
<path class="l" d="M460 0 C480 30 490 60 505 100 L520 120"/>
<path class="l" d="M620 640 C640 630 660 640 660 665 C655 690 640 695 625 690 Z"/>
<circle class="l" cx="648" cy="672" r="6"/>
<path class="l" d="M560 820 C575 830 590 850 580 870 C570 885 555 880 550 870"/>
<ellipse class="l" cx="572" cy="856" rx="14" ry="16"/>
<!-- big crank opening -->
<ellipse class="l" cx="365" cy="790" rx="118" ry="140" transform="rotate(8 365 790)"/>
<ellipse class="l" cx="365" cy="795" rx="100" ry="125" transform="rotate(8 365 795)"/>
<path class="l" d="M235 660 C260 630 300 620 340 625 M200 720 C210 680 230 650 260 640"/>
<path class="l" d="M440 690 L470 700 L500 770 L505 900 M470 700 L520 690"/>
<!-- cam circle left -->
<ellipse class="l" cx="130" cy="255" rx="85" ry="105" transform="rotate(-10 130 255)"/>
<path class="l" d="M0 360 C60 420 110 520 140 640 M0 385 C50 440 95 530 120 640"/>
<path class="l" d="M0 560 C30 620 35 700 20 780 M0 590 C20 640 25 700 10 760"/>
<!-- cover web -->
<path class="l" d="M0 20 L80 70 L110 85 L150 120 L200 180 L215 220 L250 290 L290 330 L330 390 L360 450 L390 500 L420 520 L460 540 L480 590 L480 650 L500 680"/>
<path class="l" d="M0 45 L70 90 L100 105 L140 140 L185 195 L198 230 L235 300 L275 345 L315 405 L345 465 L375 515 L410 535 L450 560 L465 600 L468 660"/>
<path class="l" d="M300 100 L330 92 L380 100 L420 95 L470 90 L500 105 L495 150 L470 190 L490 210 L500 240 L520 280 L520 320"/>
<path class="l" d="M360 100 C375 140 365 180 355 195 C370 210 380 225 375 240 M340 120 C355 160 350 200 340 230"/>
<path class="l" d="M380 240 C400 270 430 290 450 330 M420 290 L470 340"/>
<ellipse class="l" cx="370" cy="305" rx="16" ry="10"/><path class="l" d="M355 305 C355 335 380 350 400 340"/>
<circle class="l" cx="432" cy="128" r="10"/><circle class="l" cx="505" cy="243" r="10"/>
<circle class="l" cx="400" cy="500" r="9"/><circle class="l" cx="462" cy="545" r="9"/>
<circle class="l" cx="352" cy="640" r="9"/><circle class="l" cx="490" cy="678" r="9"/>
<circle class="l" cx="215" cy="215" r="14"/><circle class="l" cx="215" cy="215" r="6"/>
<circle class="l" cx="250" cy="298" r="9"/><circle class="l" cx="90" cy="80" r="9"/>
<circle class="l" cx="215" cy="605" r="9"/><circle class="l" cx="170" cy="665" r="16"/>
<circle class="l" cx="120" cy="740" r="9"/><circle class="l" cx="150" cy="875" r="10"/>
<circle class="l" cx="10" cy="835" r="9"/>
<path class="l" d="M300 100 L100 230 M315 120 L115 255"/>
<path class="l" d="M350 0 L390 35 L600 0 M0 220 L30 230 M10 210 L60 240"/>
<path class="l" d="M200 575 L310 525 L430 570 L330 620 Z M200 575 L205 595 L330 640 L430 590 L430 570"/>
<path class="l" d="M165 575 C150 620 160 690 175 720 L205 770 L210 870 L240 920"/>
<!-- ribs left -->
<path class="l" d="M0 290 L30 270 L40 320 L10 340 Z M60 320 L100 300 L110 350 L75 370 Z M120 380 L165 360 L170 420 L130 440 Z M20 380 L50 365 L55 420 L25 430 Z M85 410 L115 395 L120 445 L90 460 Z M150 470 L185 455 L190 500 L160 515 Z M190 475 L220 470 L225 495 L195 500 Z"/>
<path class="l" d="M0 660 C40 680 80 720 100 780 M0 690 C30 710 60 740 80 790"/>
<path class="l" d="M40 880 L120 900 L160 950 M50 890 L60 960 M120 900 L240 940"/>
<path class="l" d="M480 900 L520 880 L600 910 L590 930 L520 964 M510 950 L600 905"/>
<path class="l" d="M320 0 C330 40 350 70 380 90 M180 0 L210 40 L240 30 L230 0"/>
</g></g>
<g transform="translate(700.0,820.0) scale(0.377778)"><!-- seal 3 -->
<ellipse class="l" cx="403" cy="165" rx="86" ry="113" transform="rotate(-22 403 165)"/>
<ellipse class="l" cx="396" cy="168" rx="80" ry="108" transform="rotate(-22 396 168)"/>
<ellipse class="l" cx="392" cy="170" rx="68" ry="96" transform="rotate(-22 392 170)"/>
<ellipse class="l" cx="390" cy="172" rx="62" ry="90" transform="rotate(-22 390 172)"/>
<path class="l" d="M310 205 L410 162"/>
<path class="l" d="M470 268 V296 H572"/>
<path class="l" d="M150 187 L300 100 M385 50 L420 30"/>
<path class="l" d="M652 197 H737"/>
<!-- bolt 35 -->
<path class="l" d="M683 150 L715 133 M688 163 L720 146 M683 150 C678 155 682 166 688 163 M690 146 L695 160 M697 142 L702 156 M704 138 L709 152 M711 134 L716 148"/>
<path class="l" d="M716 128 L733 118 L748 125 L750 142 L733 152 L718 145 Z M733 118 L735 135 L750 142 M735 135 L733 152"/>
<path class="l" d="M750 131 H862"/>
<!-- bolt 15 -->
<path class="l" d="M305 410 L350 388 M312 427 L357 405 M305 410 C300 418 305 430 312 427 M315 405 L320 422 M325 400 L330 417 M335 395 L340 412 M345 390 L350 407"/>
<path class="l" d="M350 385 L362 378 L365 398 L357 405"/>
<path class="l" d="M360 368 L380 358 L398 368 L400 390 L382 402 L365 395 Z M380 358 L382 380 L400 390 M382 380 L382 402"/>
<path class="l" d="M400 375 H515"/>
<!-- lines near 22 -->
<path class="l" d="M0 340 L240 455 M100 325 L250 410 L450 295 M20 372 L165 305 M30 386 L100 345 M0 328 L100 325"/>
<!-- 36 leader/underline handled in labels -->
</g>
<g clip-path="url(#c_e_340_690)"><g transform="translate(340.0,690.0) scale(0.248889)"><!-- bolt 8 -->
<path class="l" d="M88 592 L272 478 M100 620 L290 506"/>
<ellipse class="l" cx="94" cy="606" rx="11" ry="16" transform="rotate(-30 94 606)"/>
<path class="m" d="M104 585 L115 612 M117 578 L128 605 M130 570 L141 597 M143 562 L154 589 M156 554 L167 581 M169 546 L180 573"/>
<ellipse class="l" cx="285" cy="492" rx="16" ry="28" transform="rotate(-30 285 492)"/>
<path class="l" d="M262 462 L300 448 C320 448 335 470 330 492 L312 520"/>
<ellipse class="l" cx="312" cy="482" rx="18" ry="27" transform="rotate(-30 312 482)"/>
<path class="l" d="M190 390 V522"/>
<path class="l" d="M62 625 L0 662"/>
<!-- leader 1 -->
<path class="l" d="M458 415 V592"/>
<!-- bolt 9 -->
<path class="l" d="M752 432 L958 318 M766 462 L975 346"/>
<ellipse class="l" cx="759" cy="447" rx="11" ry="16" transform="rotate(-30 759 447)"/>
<path class="m" d="M768 428 L779 455 M781 421 L792 448 M794 414 L805 441 M807 407 L818 434 M820 400 L831 427 M833 393 L844 420 M846 386 L857 413"/>
<ellipse class="l" cx="960" cy="332" rx="16" ry="28" transform="rotate(-30 960 332)"/>
<path class="l" d="M940 300 L975 288 C995 288 1010 310 1005 332 L988 360"/>
<ellipse class="l" cx="988" cy="322" rx="18" ry="27" transform="rotate(-30 988 322)"/>
<path class="l" d="M865 240 V357"/>
<path class="l" d="M748 455 L598 537 L705 602 L585 680"/>
<!-- bolt 11 -->
<path class="l" d="M1022 560 L1090 522 M1030 578 L1098 540"/>
<ellipse class="l" cx="1026" cy="569" rx="7" ry="11" transform="rotate(-30 1026 569)"/>
<path class="m" d="M1035 554 L1042 570 M1045 548 L1052 564 M1055 542 L1062 558"/>
<path class="l" d="M1085 515 L1105 500 C1120 500 1128 520 1120 540 L1100 552 Z M1098 505 C1112 505 1118 525 1110 545"/>
<path class="l" d="M1112 430 V502"/>
<path class="l" d="M1010 577 L760 717"/>
<!-- cover top frame -->
<path class="l" d="M330 642 L348 625 L392 612 L432 590 L470 592 L520 618 L532 660 L578 685 L600 700 L705 715 L725 728 L895 826 L930 826 L1040 802 L1125 790"/>
<path class="l" d="M330 642 L345 780 L370 825 L400 882 L420 964"/>
<path class="l" d="M345 655 L560 745 L600 700 M560 745 L562 800 L520 822 L510 905 L472 952"/>
<path class="l" d="M432 590 C440 600 430 610 395 615 M470 592 L470 615 L530 648"/>
<path class="l" d="M355 680 L440 718 L470 792 L440 802 L385 762 L360 700 Z"/>
<path class="l" d="M375 715 L420 700 L440 718 M370 790 L410 780 L440 830 L395 830 Z"/>
<path class="l" d="M450 830 L500 810 L505 860 L455 870 Z"/>
<path class="l" d="M600 700 L630 760 L640 800 M620 780 C650 790 660 830 640 870 L590 900 L560 960"/>
<path class="l" d="M725 728 L735 790 L800 830 L820 870 M735 790 L690 800 L680 845 L720 880 L770 870 L800 900 L820 964"/>
<path class="l" d="M600 800 C620 830 615 870 600 900"/>
<path class="l" d="M690 880 C700 910 720 930 740 964"/>
<ellipse class="l" cx="347" cy="657" rx="8" ry="10"/>
<ellipse class="l" cx="455" cy="735" rx="14" ry="18"/>
<ellipse class="l" cx="527" cy="790" rx="8" ry="10"/>
<ellipse class="l" cx="562" cy="742" rx="12" ry="7"/>
<ellipse class="l" cx="680" cy="735" rx="12" ry="7"/>
<ellipse class="l" cx="850" cy="830" rx="10" ry="8"/>
<ellipse class="l" cx="352" cy="815" rx="8" ry="10"/>
<ellipse class="l" cx="500" cy="882" rx="8" ry="10"/>
<ellipse class="l" cx="820" cy="925" rx="8" ry="10"/>
<!-- assembly lines -->
<path class="l" d="M0 712 L200 805 L385 902"/>
<path class="l" d="M160 905 L300 830 L440 740" stroke-dasharray="30 8"/>
<ellipse class="l" cx="112" cy="936" rx="16" ry="22"/><path class="l" d="M100 930 L125 945 M108 920 L115 950"/>
<path class="l" d="M985 782 L1125 702 M1000 796 L1125 726 M1090 832 L1125 815"/>
<!-- cover body right -->
<path class="l" d="M895 826 L900 870 L940 900 L1000 880 L1050 850 L1125 840 M930 826 L960 860 L1020 840 L1060 820 L1125 812"/>
<path class="l" d="M900 870 L880 964 M940 900 L920 964 M1000 880 L1010 964 M1050 850 L1070 964"/>
<path class="l" d="M950 900 L1040 880 L1090 900 L1125 895 M960 930 L1060 905 L1125 925"/>
</g></g>
<g clip-path="url(#c_f_600_690)"><g transform="translate(600.0,690.0) scale(0.248889)"><!-- sensor 42 -->
<path class="l" d="M272 150 L318 102 L372 165 L374 195 L345 215 L300 182 Z M300 182 L345 140 L372 165 M345 140 L318 102"/>
<path class="l" d="M305 188 L255 222 C235 238 242 272 272 268 L322 238"/>
<ellipse class="l" cx="262" cy="246" rx="18" ry="24" transform="rotate(-30 262 246)"/>
<path class="l" d="M300 195 C315 205 320 225 315 240"/>
<path class="l" d="M322 215 L345 278 C352 298 382 300 384 285 L368 200"/>
<circle class="l" cx="353" cy="274" r="8"/>
<path class="l" d="M145 160 V242 H240"/>
<!-- bolt 43 small -->
<path class="l" d="M442 215 L478 196 M448 232 L484 212 M442 215 C438 222 443 234 448 232 M452 211 L457 227 M462 206 L467 222"/>
<path class="l" d="M472 185 L492 172 L515 180 L520 200 L502 212 L478 206 Z M492 172 L498 192 L520 200 M498 192 L502 212"/>
<path class="l" d="M520 185 H615"/>
<path class="l" d="M440 228 L382 258"/>
<!-- long assembly line from 42 -->
<path class="l" d="M335 292 L200 360 V635 L0 752"/>
<!-- bolt 13 -->
<path class="l" d="M283 598 L452 500 M293 617 L462 519"/>
<ellipse class="l" cx="288" cy="607" rx="8" ry="12" transform="rotate(-30 288 607)"/>
<path class="m" d="M298 592 L306 610 M308 586 L316 604 M318 580 L326 598"/>
<path class="l" d="M448 492 L468 480 L492 488 L498 510 L480 522 L458 515 Z M468 480 L475 500 L498 510 M475 500 L480 522"/>
<path class="l" d="M380 425 V530"/>
<path class="l" d="M280 612 L0 775"/>
<!-- bolt 12 -->
<path class="l" d="M308 668 L430 598 M318 688 L440 618"/>
<ellipse class="l" cx="313" cy="678" rx="8" ry="12" transform="rotate(-30 313 678)"/>
<path class="m" d="M323 662 L331 680 M333 656 L341 674 M343 650 L351 668"/>
<path class="l" d="M428 590 L448 578 L472 586 L478 608 L460 620 L438 613 Z M448 578 L455 598 L478 608 M455 598 L460 620"/>
<path class="l" d="M550 445 V595 H478"/>
<path class="l" d="M305 686 L45 832"/>
<!-- leader 11 -->
<path class="l" d="M70 430 V500"/>
<!-- bolt 43 top right -->
<path class="l" d="M862 60 L882 45 L912 48 L925 65 L925 90 L905 105 L875 100 L860 85 Z M862 60 L880 75 L910 75 L925 65 M880 75 L875 100 M910 75 L905 105"/>
<path class="l" d="M876 103 L878 165 M910 103 L908 165 M876 165 C880 172 905 172 908 165 M876 120 H910 M876 135 H910 M876 150 H910"/>
<path class="l" d="M893 175 V330"/>
<path class="l" d="M925 75 H1080"/>
<!-- sensor 41 -->
<path class="l" d="M868 380 L905 340 L1000 350 L1005 372 L962 395 L928 412 L885 412 C868 410 862 395 868 380 Z"/>
<path class="l" d="M868 395 C870 410 885 420 900 420 L930 420 L1005 378"/>
<ellipse class="l" cx="895" cy="382" rx="14" ry="9"/>
<path class="l" d="M918 300 L935 288 L965 292 L970 355 L940 362 L918 355 Z M935 288 L940 340 L970 345 M940 340 L940 362"/>
<path class="l" d="M905 410 V470 C910 492 970 492 975 470 V400"/>
<path class="l" d="M975 325 H1125"/>
</g></g>
<g transform="translate(780.0,680.0) scale(0.306667)"><path class="l" d="M262 476 L432 380 M274 504 L446 408"/>
<ellipse class="l" cx="268" cy="490" rx="9" ry="14" transform="rotate(-30 268 490)"/>
<path class="m" d="M278 470 L287 496 M289 464 L298 490 M300 458 L309 484 M311 452 L320 478 M322 446 L331 472 M333 440 L342 466"/>
<ellipse class="l" cx="436" cy="395" rx="13" ry="23" transform="rotate(-30 436 395)"/>
<path class="l" d="M418 372 L440 362 C458 362 470 382 465 400 L450 418"/>
<ellipse class="l" cx="452" cy="388" rx="15" ry="23" transform="rotate(-30 452 388)"/>
<path class="l" d="M360 458 H495"/>
<path class="l" d="M255 497 L215 521"/>
</g>
<g transform="translate(640.0,1290.0) scale(0.177778)"><!-- bracket 27 -->
<path class="l" d="M205 345 V505 C212 526 292 526 300 508 V420"/>
<ellipse class="l" cx="252" cy="345" rx="46" ry="27" transform="rotate(-20 252 345)"/>
<ellipse class="l" cx="252" cy="345" rx="18" ry="10" transform="rotate(-20 252 345)"/>
<ellipse class="l" cx="375" cy="272" rx="45" ry="25" transform="rotate(-20 375 272)"/>
<ellipse class="l" cx="375" cy="272" rx="18" ry="10" transform="rotate(-20 375 272)"/>
<path class="l" d="M340 252 L432 212 L540 150 C580 130 620 128 660 132 L770 190 C802 205 822 240 815 270 L800 300 L742 332"/>
<path class="l" d="M280 372 L420 312 L470 306 L560 282 L640 262 L690 248"/>
<path class="l" d="M295 330 L420 300 L465 290 L560 265 L640 245"/>
<path class="l" d="M760 190 C790 210 805 240 800 270"/>
<ellipse class="l" cx="380" cy="422" rx="28" ry="32" transform="rotate(20 380 422)"/><ellipse class="l" cx="381" cy="424" rx="10" ry="12"/>
<ellipse class="l" cx="455" cy="378" rx="25" ry="28" transform="rotate(20 455 378)"/><ellipse class="l" cx="456" cy="380" rx="9" ry="11"/>
<path class="l" d="M350 398 L450 350 M362 448 L472 398"/>
<ellipse class="l" cx="690" cy="295" rx="38" ry="48" transform="rotate(15 690 295)"/><ellipse class="l" cx="690" cy="296" rx="18" ry="24" transform="rotate(15 690 296)"/>
<ellipse class="l" cx="625" cy="360" rx="28" ry="38" transform="rotate(15 625 360)"/><ellipse class="l" cx="625" cy="362" rx="13" ry="18"/>
<path class="l" d="M655 262 C700 240 732 270 730 322 L700 342 L660 392 L640 404 M730 322 L750 330 L745 348 L680 395"/>
<path class="l" d="M552 396 L620 370 M600 348 L640 332"/>
<path class="l" d="M300 420 L340 410 M300 470 L352 450 M290 400 L340 440"/>
<path class="l" d="M555 396 L695 476 L620 520"/>
<!-- bolt 28 -->
<path class="l" d="M470 578 L618 505 M495 615 L642 535"/>
<path class="m" d="M568 530 L580 556 M580 524 L592 550 M592 518 L604 544 M604 512 L616 538"/>
<path class="l" d="M618 505 C630 505 645 520 642 535"/>
<ellipse class="l" cx="446" cy="620" rx="52" ry="48"/>
<path class="l" d="M405 600 L425 575 L460 572 L485 595 L488 635 L465 660 L430 662 L405 640 Z M425 575 L440 605 L485 595 M440 605 L430 662"/>
<path class="l" d="M560 595 H790"/>
<!-- bolt 29 -->
<path class="l" d="M258 525 V665"/>
<path class="l" d="M238 672 V880 M276 672 V880 M238 672 C240 664 274 664 276 672"/>
<path class="m" d="M238 690 C242 698 272 698 276 690 M238 708 C242 716 272 716 276 708 M238 726 C242 734 272 734 276 726 M238 744 C242 752 272 752 276 744"/>
<ellipse class="l" cx="257" cy="895" rx="46" ry="22"/>
<path class="l" d="M215 905 V935 C225 960 290 960 300 935 V905 M225 925 C240 940 275 940 290 925"/>
<path class="l" d="M280 805 H540"/>
</g>
<g clip-path="url(#c_k_420_960)"><g transform="translate(420.0,960.0) scale(0.248889)"><!-- gasket 5 band (left upper) -->
<path class="l" d="M0 188 L62 232 L92 254 L142 296 L172 334 L222 350 L252 366 L268 398 L258 422 L228 424 L200 432 L170 428 L140 440 L118 452 L96 488 L86 580 L96 700 L116 760 L176 820 L194 860 L194 964"/>
<path class="l" d="M0 208 L55 250 L85 272 L132 312 L160 350 L215 368 L242 382 L250 400 L240 410 L222 408 L196 414 L168 410 L132 424 L106 440 L80 480 L70 580 L80 700 L100 770 L160 830 L178 868 L178 964"/>
<circle class="l" cx="72" cy="250" r="11"/><circle class="l" cx="72" cy="250" r="5"/>
<circle class="l" cx="168" cy="354" r="9"/>
<circle class="l" cx="240" cy="390" r="20"/><circle class="l" cx="240" cy="390" r="12"/>
<circle class="l" cx="162" cy="408" r="9"/><circle class="l" cx="116" cy="452" r="11"/><circle class="l" cx="116" cy="452" r="5"/>
<circle class="l" cx="96" cy="582" r="10"/><circle class="l" cx="114" cy="692" r="10"/>
<circle class="l" cx="190" cy="830" r="16"/><circle class="l" cx="190" cy="830" r="8"/>
<path class="l" d="M0 40 H120"/>
<!-- gasket 5 upper vertical band -->
<path class="l" d="M118 0 L130 70 L116 130 L108 200 L126 262 L150 292 M134 0 L146 68 L134 130 L128 200 L146 258"/>
<ellipse class="l" cx="142" cy="126" rx="13" ry="18"/><ellipse class="l" cx="136" cy="238" rx="14" ry="20"/>
<path class="l" d="M150 40 C160 30 190 35 210 45"/>
<!-- cover seam double line -->
<path class="l" d="M126 8 L210 42 L312 92 L334 120 L362 160 L420 214 L458 244 L476 280 L490 330 L530 380 L570 420 L602 470 L640 518 L690 544 L702 580 L706 640 L730 700 L760 738 L802 760 L812 782"/>
<path class="l" d="M140 0 L220 30 L320 78 L346 108 L376 150 L432 204 L470 232 L490 270 L504 322 L544 370 L584 410 L616 460 L652 505 L704 534 L716 575 L722 640 L746 695 L776 730 L816 752"/>
<circle class="l" cx="156" cy="42" r="10"/><circle class="l" cx="270" cy="125" r="10"/><circle class="l" cx="312" cy="122" r="9"/>
<circle class="l" cx="372" cy="228" r="8"/><circle class="l" cx="436" cy="258" r="16"/><circle class="l" cx="436" cy="258" r="8"/>
<circle class="l" cx="360" cy="278" r="9"/><circle class="l" cx="318" cy="322" r="16"/><circle class="l" cx="318" cy="322" r="8"/>
<circle class="l" cx="472" cy="333" r="8"/><circle class="l" cx="616" cy="542" r="9"/><circle class="l" cx="682" cy="578" r="9"/>
<circle class="l" cx="575" cy="675" r="9"/><circle class="l" cx="706" cy="710" r="11"/><circle class="l" cx="752" cy="712" r="14"/>
<circle class="l" cx="296" cy="452" r="16"/><circle class="l" cx="296" cy="452" r="8"/>
<circle class="l" cx="340" cy="506" r="10"/><circle class="l" cx="320" cy="570" r="14"/><circle class="l" cx="320" cy="570" r="7"/>
<circle class="l" cx="246" cy="536" r="18"/><circle class="l" cx="246" cy="536" r="9"/>
<circle class="l" cx="392" cy="700" r="15"/><circle class="l" cx="392" cy="700" r="7"/>
<circle class="l" cx="435" cy="640" r="8"/>
<!-- cover left web -->
<path class="l" d="M170 430 C180 470 180 500 200 520 L250 560 L290 585 L300 620 L330 650 L350 680 L375 700 L395 740 L405 800 L410 870 L420 910"/>
<path class="l" d="M185 410 C200 440 220 460 260 470 L290 500 L300 540 L290 580"/>
<path class="l" d="M270 440 L300 430 L330 440 L340 470 L350 510 L360 560 L370 640 L390 680"/>
<path class="l" d="M330 870 L345 850 L375 830 L410 860 L440 900 L440 940 L410 950 L340 930 L330 900 Z"/>
<circle class="l" cx="410" cy="908" r="14"/><circle class="l" cx="410" cy="908" r="7"/>
<circle class="l" cx="372" cy="890" r="7"/>
<!-- dashed leaders -->
<path class="l" d="M340 560 V964" stroke-dasharray="8 5"/>
<path class="l" d="M400 395 V964" stroke-dasharray="5 4"/>
<path class="l" d="M350 410 L400 395"/>
<!-- cam bore big circle -->
<ellipse class="l" cx="470" cy="500" rx="120" ry="155" transform="rotate(-18 470 500)"/>
<ellipse class="l" cx="472" cy="502" rx="108" ry="142" transform="rotate(-18 472 502)"/>
<path class="l" d="M440 370 C450 385 452 395 460 405 M480 390 L490 420 M505 410 L540 450"/>
<path class="l" d="M395 515 L440 560 L520 600 L555 620 M440 530 L520 570 L560 590"/>
<path class="l" d="M460 560 L540 600 L545 630 L470 590 Z M470 575 L535 608"/>
<path class="l" d="M430 510 C470 540 530 570 580 580"/>
<!-- upper opening -->
<path class="l" d="M476 210 C530 200 600 220 650 260 C690 300 712 360 712 430 C712 480 700 520 680 540"/>
<path class="l" d="M486 222 C540 214 596 232 642 270 C680 308 700 362 700 430 C700 478 690 512 672 532"/>
<!-- idler at top -->
<ellipse class="l" cx="492" cy="102" rx="55" ry="66"/>
<circle class="l" cx="492" cy="102" r="18"/><circle class="l" cx="492" cy="102" r="9"/>
<path class="l" d="M492 102 L612 52"/>
<!-- top circle -->
<ellipse class="l" cx="692" cy="95" rx="80" ry="96" transform="rotate(-15 692 95)"/>
<!-- windows -->
<path class="l" d="M528 40 C525 30 540 28 550 35 L610 80 L612 110 L595 115 L545 85 Z"/>
<path class="l" d="M566 102 L598 112 L600 158 L570 150 Z M576 172 L606 178 L608 196 L578 192 Z"/>
<path class="l" d="M620 178 L656 198 L660 232 L626 222 Z M630 140 L680 165 L688 190 L640 175 Z"/>
<path class="l" d="M680 230 L716 250 L720 290 L686 280 Z M650 262 L690 282 L700 302 L660 298 Z"/>
<path class="l" d="M720 322 L752 336 L752 362 L724 355 Z M760 312 L790 322 L792 332 L762 328 Z M702 332 L738 352 L742 382 L706 372 Z"/>
<path class="l" d="M540 20 C560 80 600 140 640 180 L700 230 L760 300 L800 330 L805 360"/>
<path class="l" d="M620 150 L650 150 L690 160 M650 120 C660 140 680 150 700 150"/>
<!-- outer right edge of cover -->
<path class="l" d="M722 0 L762 22 L792 90 L802 142 L842 172 L902 232 L942 302 L982 362 L1022 392 L1042 422 L1052 472 L1062 502 L1082 522 L1125 562"/>
<path class="l" d="M742 0 L778 20 L808 88 L818 132 L856 160 L916 222 L956 292 L996 350 L1034 380 L1056 414 L1066 466 L1076 496 L1096 514 L1125 540"/>
<circle class="l" cx="780" cy="60" r="12"/><circle class="l" cx="812" cy="132" r="9"/><circle class="l" cx="962" cy="342" r="10"/>
<circle class="l" cx="1025" cy="382" r="9"/><circle class="l" cx="1050" cy="515" r="12"/>
<path class="l" d="M760 170 L800 210 L830 200 L795 160"/>
<!-- tensioner block -->
<path class="l" d="M770 400 L860 368 L980 400 L1002 412 L940 442 L900 462 L800 432 Z M800 432 L800 470 M900 462 L905 500"/>
<path class="l" d="M760 430 C730 440 715 470 720 500 C725 520 745 530 760 525"/>
<ellipse class="l" cx="735" cy="505" rx="15" ry="20"/>
<circle class="l" cx="775" cy="442" r="10"/><circle class="l" cx="912" cy="480" r="10"/>
<!-- crank bore -->
<ellipse class="l" cx="928" cy="648" rx="112" ry="150" transform="rotate(-12 928 648)"/>
<ellipse class="l" cx="928" cy="650" rx="98" ry="136" transform="rotate(-12 928 650)"/>
<path class="l" d="M820 560 C800 600 795 660 800 720 L830 760 M845 520 C880 495 940 495 990 520"/>
<path class="l" d="M1040 560 C1060 600 1070 660 1060 720 L1040 780 L1000 810"/>
<circle class="l" cx="905" cy="775" r="12"/>
<path class="l" d="M1040 760 L1070 740 L1110 720 L1125 700 M1045 800 L1080 790 L1125 770"/>
<circle class="l" cx="1070" cy="748" r="12"/><circle class="l" cx="1090" cy="795" r="9"/>
<!-- right-top region -->
<path class="l" d="M900 0 L930 30 L950 60 L990 110 L1040 150 L1080 170 L1125 180 M960 0 C980 30 1000 40 1030 45 L1080 60 L1125 70"/>
<path class="l" d="M1020 0 L1040 20 L1070 70 L1090 120 L1125 130 M1060 0 L1090 40"/>
<ellipse class="l" cx="937" cy="150" rx="20" ry="14"/><path class="l" d="M917 150 C915 185 940 195 962 180 V150"/>
<path class="l" d="M1000 200 C1040 250 1070 300 1090 360 L1125 420 M1020 190 C1060 240 1090 290 1110 340"/>
<path class="l" d="M980 150 L1000 180 L1040 200 M1050 80 C1070 90 1080 110 1070 130"/>
<circle class="l" cx="1072" cy="82" r="10"/>
<!-- bottom bosses -->
<ellipse class="l" cx="787" cy="863" rx="20" ry="24" transform="rotate(20 787 863)"/><ellipse class="l" cx="787" cy="865" rx="9" ry="11"/>
<ellipse class="l" cx="840" cy="875" rx="25" ry="32" transform="rotate(20 840 875)"/><ellipse class="l" cx="841" cy="877" rx="14" ry="18"/>
<ellipse class="l" cx="882" cy="830" rx="22" ry="28" transform="rotate(20 882 830)"/><ellipse class="l" cx="883" cy="832" rx="11" ry="14"/>
<path class="l" d="M770 845 L830 820 L860 800 L900 740 M860 910 L910 940 L1000 900 L1040 830 L1050 790"/>
<path class="l" d="M440 700 C500 760 560 800 640 825 C700 845 740 855 770 860"/>
<path class="l" d="M620 740 V964 M680 860 V964 M720 822 V964 M800 900 V964"/>
<path class="l" d="M690 740 L750 770 L800 780 L812 770 M680 760 L760 790 L800 790"/>
<path class="l" d="M540 700 C545 720 560 725 575 720 M590 720 C595 740 610 745 625 738"/>
<path class="l" d="M460 940 C470 930 500 930 510 950 L505 964"/>
<g transform="translate(-562.5,803.6)">
<!-- gasket 7 end -->
<path class="l" d="M730 0 C722 20 728 45 745 60 L752 110 L745 188 L720 185 L700 195 L705 270 L722 285 L752 290 L760 262 L812 285 L822 275 L802 232 L782 170 L768 110 L772 60 C786 40 782 10 765 0"/>
<path class="l" d="M745 12 C740 30 745 50 758 62 L762 110 L760 195 L715 198 L718 265 L742 275 L750 255 L805 270 L790 232 L772 170"/>
<circle class="l" cx="756" cy="32" r="12"/><circle class="l" cx="775" cy="235" r="13"/><circle class="l" cx="735" cy="214" r="6"/>
<path class="l" d="M612 105 H745"/>
<!-- bolt 19 -->
<path class="l" d="M995 172 L1035 152 M1000 192 L1040 172 M995 172 C990 180 995 194 1000 192 M1005 168 L1010 187 M1015 163 L1020 182 M1025 158 L1030 177"/>
<path class="l" d="M1030 140 L1048 128 L1072 133 L1080 155 L1065 170 L1040 165 Z M1048 128 L1055 148 L1080 155 M1055 148 L1065 170"/>
<path class="l" d="M1055 172 V588"/>
 <path class="l" d="M965 128 V198 L995 186"/>
</g>
</g></g>
<g clip-path="url(#c_m_200_1040)"><g transform="translate(200.0,1040.0) scale(0.195556)"><!-- bores C/D edges -->
<ellipse class="l" cx="-83" cy="87" rx="245" ry="141"/>
<ellipse class="l" cx="-82" cy="99" rx="237" ry="130"/>
<ellipse class="l" cx="299" cy="-128" rx="245" ry="141"/>
<ellipse class="l" cx="300" cy="-116" rx="237" ry="130"/>
<ellipse class="l" cx="210" cy="32" rx="30" ry="19"/><ellipse class="l" cx="210" cy="38" rx="21" ry="10"/>
<ellipse class="l" cx="226" cy="82" rx="28" ry="18"/>
<ellipse class="l" cx="135" cy="212" rx="30" ry="19"/><ellipse class="l" cx="135" cy="218" rx="21" ry="10"/>
<!-- deck front edge -->
<path class="l" d="M0 305 L150 265 L208 240 L222 195 L268 160 L340 126 L420 106 L490 96 L520 90 L545 56 L580 35 L605 18"/>
<path class="l" d="M0 328 L152 290 L212 268 L230 215 L276 182 L346 150 L424 130 L494 120 L525 140 L550 100 L610 70 L640 50"/>
<path class="l" d="M0 470 L60 450 L110 420 L150 380 L155 290 M210 270 L210 480 M150 380 L210 360"/>
<!-- vertical ribs upper face -->
<path class="l" d="M295 160 L300 250 M385 130 L388 240 M478 105 L470 420 M505 100 L495 410 M522 140 L520 160"/>
<!-- big oval boss -->
<ellipse class="l" cx="318" cy="405" rx="82" ry="118" transform="rotate(12 318 405)"/>
<ellipse class="l" cx="318" cy="408" rx="58" ry="88" transform="rotate(12 318 408)"/>
<ellipse class="l" cx="365" cy="242" rx="33" ry="36"/><ellipse class="l" cx="365" cy="244" rx="16" ry="18"/>
<ellipse class="l" cx="430" cy="478" rx="28" ry="33" transform="rotate(15 430 478)"/><ellipse class="l" cx="430" cy="480" rx="12" ry="15"/>
<ellipse class="l" cx="465" cy="662" rx="46" ry="52" transform="rotate(15 465 662)"/><ellipse class="l" cx="465" cy="664" rx="32" ry="37" transform="rotate(15 465 664)"/>
<ellipse class="l" cx="95" cy="580" rx="32" ry="36"/><ellipse class="l" cx="95" cy="582" rx="16" ry="18"/>
<ellipse class="l" cx="58" cy="665" rx="28" ry="32"/><ellipse class="l" cx="58" cy="667" rx="13" ry="15"/>
<path class="l" d="M0 560 C20 540 40 520 60 500 M0 620 L40 600"/>
<!-- V ribs and windows -->
<path class="l" d="M215 490 L318 805 L338 792 L425 560 M232 495 L325 785"/>
<path class="l" d="M188 620 L186 892 L282 832 L212 600 Z M200 640 L198 870 L268 828"/>
<path class="l" d="M30 982 L130 630 L148 642 L142 930 Z M45 960 L132 660"/>
<path class="l" d="M0 850 L40 760 M0 900 L20 860"/>
<path class="l" d="M440 590 L520 410 L525 440 L450 600 M445 540 L505 410"/>
<!-- ear -->
<path class="l" d="M522 150 L600 130 C700 112 880 140 1025 178 L1042 200 L1042 246 L972 292 L880 292 L820 302 L770 312"/>
<path class="l" d="M972 292 L972 242 L1042 200 M972 242 L880 240"/>
<ellipse class="l" cx="935" cy="242" rx="17" ry="22" transform="rotate(15 935 242)"/><ellipse class="l" cx="935" cy="242" rx="8" ry="11"/>
<path class="l" d="M620 0 L640 50 L600 80 L560 90 M700 0 C720 30 760 30 770 0"/>
<path class="l" d="M860 0 L870 60 M890 0 L885 60"/>
<!-- under ear / pipe -->
<path class="l" d="M520 600 L560 550 L600 420 L680 355 L822 302 L840 312 L832 362"/>
<path class="l" d="M545 520 L560 470 L660 420 L665 370 M550 540 L650 490 L660 440"/>
<path class="l" d="M690 360 L680 600 L670 720 L700 800 M808 370 L790 530 L800 600 L812 720 L832 762"/>
<path class="l" d="M680 540 C720 562 770 562 800 532 M670 700 C700 722 780 722 820 690 M690 600 C720 620 770 618 800 600"/>
<path class="l" d="M510 720 L650 650 L660 600 M520 700 L640 640"/>
<!-- right face -->
<path class="l" d="M832 762 L880 880 C920 882 950 920 955 960 L945 1030 L960 1100 L1000 1200 L1042 1350 L1042 1392 L972 1422 L760 1384"/>
<path class="l" d="M842 792 L872 862 M880 1030 L870 1150 L900 1300 L1000 1372 M920 1000 L910 1100 L930 1250 L990 1340"/>
<path class="l" d="M1042 1350 L972 1380 L972 1422 M972 1380 L900 1370"/>
<ellipse class="l" cx="840" cy="970" rx="14" ry="20"/>
<!-- crank line -->
<path class="l" d="M60 1062 L322 932 M490 842 L610 782"/>
<path class="l" d="M175 1342 L340 1246"/>
<!-- caps -->
<path class="l" d="M330 900 L440 830 C480 900 530 1000 558 1140 L545 1150 C520 1000 472 900 432 850"/>
<path class="l" d="M330 900 C362 970 400 1050 420 1130 L440 1200"/>
<ellipse class="l" cx="490" cy="1050" rx="30" ry="36" transform="rotate(20 490 1050)"/><ellipse class="l" cx="490" cy="1052" rx="14" ry="17"/>
<path class="l" d="M440 1090 L470 1080 L520 1110 L540 1140 M430 1100 C440 1150 450 1200 470 1195"/>
<ellipse class="l" cx="380" cy="1212" rx="40" ry="30" transform="rotate(-20 380 1212)"/><ellipse class="l" cx="380" cy="1212" rx="18" ry="13"/>
<path class="l" d="M275 1032 L340 1000 L420 1172 L372 1200 L330 1150 L275 1060 Z M340 1000 L380 1070"/>
<ellipse class="l" cx="720" cy="1132" rx="30" ry="34" transform="rotate(20 720 1132)"/><ellipse class="l" cx="720" cy="1134" rx="14" ry="16"/>
<path class="l" d="M600 1040 L640 1020 L700 1100 M590 1060 C600 1100 610 1130 660 1150 L700 1160"/>
<ellipse class="l" cx="140" cy="1340" rx="32" ry="40" transform="rotate(20 140 1340)"/><ellipse class="l" cx="140" cy="1342" rx="16" ry="20"/>
<!-- windows lower -->
<path class="l" d="M460 1240 L570 1200 L576 1270 L470 1280 Z M475 1250 L560 1215"/>
<path class="l" d="M465 1302 L600 1240 L610 1420 L475 1460 Z M478 1310 L592 1258 L598 1410 L485 1445"/>
<path class="l" d="M755 1180 L820 1150 L826 1312 L765 1326 Z"/>
<path class="l" d="M735 1052 L805 1025 L815 1100 L760 1130 Z"/>
<path class="l" d="M630 772 L700 742 L780 982 L720 1002 Z M645 780 L710 755"/>
<path class="l" d="M0 1060 L60 1040 L90 1100 L120 1200 L140 1300 M0 1100 L50 1090 L80 1180 L100 1300"/>
<path class="l" d="M0 1400 L60 1380 L100 1400 L120 1483 M160 1380 L170 1483"/>
<path class="l" d="M620 1483 L760 1384"/>
<ellipse class="l" cx="712" cy="1470" rx="14" ry="10"/>
<ellipse class="l" cx="715" cy="-9" rx="57" ry="66" transform="rotate(25 715 -9)"/>
<ellipse class="l" cx="717" cy="-5" rx="33" ry="43" transform="rotate(25 717 -5)"/>
</g></g>
<g clip-path="url(#c_n_420_830)"><g transform="translate(420.0,830.0) scale(0.248889)"><!-- frame top boss -->
<path class="l" d="M60 52 L95 40 C110 25 160 25 185 40 L205 62 L210 95 L205 110"/>
<path class="l" d="M100 42 C115 50 150 52 175 45 M185 40 L190 80 L180 100"/>
<!-- frame edges -->
<path class="l" d="M18 72 L60 52 L255 130 L282 140 L380 158 L576 265"/>
<path class="l" d="M18 72 L252 190 L252 255 L205 268"/>
<path class="l" d="M252 190 L290 178 L520 300 L522 322 M292 196 L510 312"/>
<path class="l" d="M576 265 L650 250 L692 240 L722 280 L872 382 L962 446 L1002 470"/>
<path class="l" d="M522 322 L558 342 L562 366 M490 340 L560 372 L640 430 L700 472 L760 540"/>
<path class="l" d="M560 300 L600 288 L640 300 L700 290 L720 280"/>
<path class="l" d="M560 342 L620 320 L720 300 M600 288 L630 330"/>
<!-- frame left side -->
<path class="l" d="M18 72 L22 230 L36 242 L60 300 L76 352 L100 422 L95 472 L80 522 L95 562"/>
<path class="l" d="M36 110 L40 215 L52 235"/>
<ellipse class="l" cx="25" cy="96" rx="8" ry="10"/><ellipse class="l" cx="40" cy="256" rx="9" ry="11"/><ellipse class="l" cx="100" cy="426" rx="10" ry="12"/>
<!-- cutouts -->
<path class="l" d="M40 125 L72 115 L112 146 L60 162 Z M52 150 L100 140"/>
<path class="l" d="M48 205 L96 220 L162 236 L102 266 Z"/>
<path class="l" d="M122 276 L162 250 L202 265 L182 292 L142 302 Z"/>
<path class="l" d="M202 265 L202 330 L132 385 L146 398 L300 332 L300 232 L252 255"/>
<path class="l" d="M146 398 L150 340 L200 330"/>
<circle class="l" cx="130" cy="170" r="18"/>
<ellipse class="l" cx="240" cy="181" rx="12" ry="8"/><ellipse class="l" cx="360" cy="172" rx="12" ry="8"/>
<ellipse class="l" cx="532" cy="270" rx="12" ry="8"/><ellipse class="l" cx="206" cy="226" rx="8" ry="11"/>
<ellipse class="l" cx="178" cy="320" rx="8" ry="11"/><circle class="l" cx="500" cy="365" r="12"/><circle class="l" cx="500" cy="365" r="5"/>
<circle class="l" cx="650" cy="445" r="10"/>
<!-- arches -->
<path class="l" d="M262 320 C282 352 322 362 352 342 L372 272 C362 242 332 226 312 242"/>
<path class="l" d="M330 228 C352 240 372 252 382 272 L400 320 L420 345"/>
<path class="l" d="M220 402 C242 382 300 372 380 402 L440 412 L466 382 L460 302"/>
<path class="l" d="M232 562 C230 472 282 422 352 412"/>
<path class="l" d="M420 270 C440 300 450 330 450 360"/>
<path class="l" d="M380 402 C410 440 430 480 440 520 L450 562"/>
<!-- dashed assembly lines -->
<path class="l" d="M0 332 L100 392 L222 456 L382 542" stroke-dasharray="22 7"/>
<path class="l" d="M265 556 L560 392 L700 312 L860 220" stroke-dasharray="22 7"/>
<path class="l" d="M0 242 L142 176"/>
<!-- bolt assembly lines -->
<path class="l" d="M440 156 L700 12"/>
<path class="l" d="M920 0 V70 L662 220"/>
<path class="l" d="M680 236 L1000 56"/>
<path class="l" d="M772 272 L1040 118"/>
<path class="l" d="M265 112 L390 40 L380 0"/>
<!-- right region -->
<path class="l" d="M902 392 L1125 312 M932 422 L1125 345"/>
<path class="l" d="M870 452 C900 440 932 472 926 512 L912 542 M880 470 C905 465 918 490 912 520"/>
<circle class="l" cx="992" cy="490" r="14"/><circle class="l" cx="992" cy="490" r="6"/>
<path class="l" d="M962 446 L1002 440 L1040 460 L1060 500 L1090 540 M1010 520 L1050 560"/>
<path class="l" d="M700 330 L760 320 L790 350 L760 380 L720 370 Z"/>
<path class="l" d="M700 330 L780 300 M720 350 L800 320"/>
<path class="l" d="M640 390 C660 370 690 380 700 400 L690 430"/>
<path class="l" d="M820 400 L860 440 L880 470 M780 440 L830 500 L860 540"/>
<path class="l" d="M610 520 C630 500 680 490 720 510 L760 540"/>
<path class="l" d="M1110 440 L1125 430 M1090 480 L1125 470"/>
<g transform="translate(723.2,-562.5)">
<path class="l" d="M283 598 L452 500 M293 617 L462 519"/>
<ellipse class="l" cx="288" cy="607" rx="8" ry="12" transform="rotate(-30 288 607)"/>
<path class="m" d="M298 592 L306 610 M308 586 L316 604 M318 580 L326 598"/>
<path class="l" d="M308 668 L430 598 M318 688 L440 618"/>
<ellipse class="l" cx="313" cy="678" rx="8" ry="12" transform="rotate(-30 313 678)"/>
<path class="m" d="M323 662 L331 680 M333 656 L341 674 M343 650 L351 668"/>
</g>
</g></g>
<g transform="translate(680.0,850.0) scale(0.106667)"><path class="l" d="M180 400 C195 378 250 372 285 388 L370 442 L480 592 C505 620 505 670 488 684 L452 718 L300 790 C275 800 245 790 230 772 L112 622 C98 605 102 580 120 562 L170 522 L186 500 L176 430 Z"/>
<path class="l" d="M112 622 L100 640 L218 795 C240 815 275 815 300 805 L460 730 L488 684"/>
<path class="l" d="M176 430 L165 440 L172 505"/>
<circle class="l" cx="246" cy="422" r="18"/><circle class="l" cx="406" cy="640" r="18"/>
<path class="l" d="M500 645 H735"/>
<!-- bolt 23 -->
<path class="l" d="M478 540 L525 505 M500 575 L548 540 M478 540 C470 555 490 580 500 575 M490 530 L508 560 M502 522 L520 552 M514 514 L532 544"/>
<circle class="w" cx="600" cy="432" r="58"/>
<path class="l" d="M545 420 C520 440 515 490 545 515 C565 530 600 525 620 505"/>
<path class="l" d="M660 450 H915"/>
<!-- nut 14 -->
<circle class="l" cx="312" cy="195" r="60"/>
<path class="m" d="M262 170 L340 250 M270 150 L360 240 M290 140 L370 220 M310 135 L372 197 M255 195 L310 250 M262 230 L350 140 M280 245 L370 160 M255 210 L330 137 M300 255 L372 185"/>
<path class="l" d="M380 165 H585"/>
<path class="l" d="M250 232 L65 330 V522 L0 552"/>
<path class="l" d="M150 712 L0 800 M230 802 L90 938 M780 800 L520 938"/>
</g>
<g transform="translate(300.0,880.0) scale(0.124444)"><!-- gasket 4 -->
<path class="l" d="M300 175 C298 150 315 135 335 132 L808 392 L808 425 L692 518 L676 545 L692 600 L702 660 L690 690 L650 702 L600 742 L552 822 L532 872 L536 1000 L560 1100 L600 1200 L620 1280 L612 1332 L582 1382"/>
<path class="l" d="M300 175 L795 410 L808 425 M795 410 L800 392"/>
<path class="l" d="M300 175 L302 255 L320 440"/>
<path class="l" d="M400 690 L470 950 L510 1200 L520 1350"/>
<path class="l" d="M690 700 L660 712 L610 752 L560 830 L544 880 L548 1000 L572 1100 L610 1200 L630 1280"/>
<path class="l" d="M676 545 L686 540 L700 600 L710 660"/>
<circle class="l" cx="336" cy="190" r="14"/>
<ellipse class="l" cx="550" cy="335" rx="25" ry="30" transform="rotate(-20 550 335)"/><path class="l" d="M530 320 L568 350"/>
<ellipse class="l" cx="686" cy="442" rx="11" ry="18"/>
<ellipse class="l" cx="630" cy="632" rx="14" ry="22"/>
<ellipse class="l" cx="478" cy="852" rx="14" ry="22"/>
<ellipse class="l" cx="565" cy="1290" rx="14" ry="22"/>
<!-- gasket 6 -->
<path class="l" d="M170 470 C175 445 200 440 222 450 L290 500 L330 505 L345 450 L362 440 L472 510 L482 612 L460 622 L422 600 L416 640 L420 665 L400 690 L362 672 L312 652 L292 662 L302 722 L332 792 L362 842 L356 882 L330 896 L290 880 L236 800 L220 750 L200 650 L200 570 L180 540 Z"/>
<ellipse class="l" cx="226" cy="525" rx="30" ry="36" transform="rotate(-20 226 525)"/><ellipse class="l" cx="226" cy="525" rx="17" ry="22" transform="rotate(-20 226 525)"/>
<ellipse class="l" cx="380" cy="636" rx="12" ry="18"/>
<ellipse class="l" cx="326" cy="842" rx="18" ry="26" transform="rotate(-20 326 842)"/>
<!-- leaders -->
<path class="l" d="M-168 470 H170 M60 250 H292"/>
<path class="l" d="M362 440 L540 352"/>
<path class="l" d="M212 945 L300 872 M246 975 L332 896"/>
<path class="l" d="M0 660 L182 545"/>
<path class="l" d="M482 0 L1125 352" stroke-dasharray="40 8"/>
<path class="l" d="M632 292 L1000 82 L1125 30"/>
</g>
<g transform="translate(890.0,840.0) scale(0.071111)"><path class="l" d="M240 230 C200 260 160 420 140 520 C140 570 150 620 230 690 L490 840 L610 905 C630 912 650 905 662 895 L690 860 L610 500 C590 440 560 390 540 350 C510 310 470 270 430 250 C380 220 320 200 240 230 Z"/>
<path class="l" d="M240 230 L320 195 C350 170 380 150 460 150 C510 170 560 200 590 230 C640 300 690 370 720 460 L790 760 C795 790 785 815 760 830 L690 868"/>
<ellipse class="l" cx="415" cy="482" rx="100" ry="140" transform="rotate(-20 415 482)"/>
<ellipse class="l" cx="420" cy="486" rx="78" ry="118" transform="rotate(-20 420 486)"/>
<ellipse class="l" cx="246" cy="580" rx="44" ry="60" transform="rotate(-20 246 580)"/>
<ellipse class="l" cx="586" cy="780" rx="44" ry="56" transform="rotate(-20 586 780)"/>
<path class="l" d="M490 840 L65 1084"/>
</g>
<g clip-path="url(#c_s1_0_1150)"><g transform="translate(0.0,1150.0) scale(0.186667)"><!-- bore A lower -->
<ellipse class="l" cx="184" cy="-43" rx="257" ry="147"/>
<ellipse class="l" cx="185" cy="-30" rx="248" ry="136"/>
<ellipse class="l" cx="100" cy="135" rx="28" ry="18"/><ellipse class="l" cx="100" cy="141" rx="18" ry="9"/>
<path class="l" d="M140 185 C140 160 175 150 210 158 C245 166 252 190 235 205 C215 220 150 215 140 185 Z"/>
<ellipse class="l" cx="200" cy="198" rx="30" ry="15"/>
<ellipse class="l" cx="335" cy="128" rx="28" ry="18"/>
<ellipse class="l" cx="415" cy="95" rx="28" ry="18"/><ellipse class="l" cx="415" cy="101" rx="18" ry="9"/>
<!-- deck front edge -->
<path class="l" d="M0 165 L145 242 L285 222 L400 180 L425 150 L500 100 L530 40 L560 0"/>
<path class="l" d="M145 242 L152 298 L282 286 L300 240 L410 210 L420 170"/>
<path class="l" d="M410 210 L415 290 L440 300 L470 280 M435 170 L440 250"/>
<!-- left face -->
<path class="l" d="M152 298 L168 362 L182 432 L200 522 L215 600 L245 648 L240 700 L215 722 L215 790 L190 830 L175 870 L170 950 L180 1100 L185 1330 L200 1380 L210 1440 L195 1490 L190 1560 L210 1620 L270 1745"/>
<path class="l" d="M185 310 L200 400 L220 490 L240 560 L265 600"/>
<ellipse class="l" cx="108" cy="350" rx="10" ry="14"/><ellipse class="l" cx="205" cy="632" rx="10" ry="14"/>
<ellipse class="l" cx="200" cy="800" rx="10" ry="14"/><ellipse class="l" cx="150" cy="885" rx="10" ry="14"/>
<ellipse class="l" cx="125" cy="945" rx="18" ry="30"/><ellipse class="l" cx="0" cy="830" rx="10" ry="18"/>
<ellipse class="l" cx="120" cy="1290" rx="10" ry="14"/><ellipse class="l" cx="195" cy="1440" rx="10" ry="14"/>
<ellipse class="l" cx="235" cy="1640" rx="10" ry="14"/>
<path class="l" d="M0 940 L20 960 M35 1000 L120 985 L150 1040 L140 1080 L60 1085 L35 1050 Z"/>
<path class="l" d="M0 1100 C30 1150 60 1220 80 1300 M0 1140 C20 1180 45 1240 60 1300 M20 1320 L130 1390 L150 1430 M35 1330 L150 1400"/>
<path class="l" d="M0 1040 L30 1080 L40 1120 L110 1160 L140 1250"/>
<!-- tower -->
<path class="l" d="M152 300 L270 288 L400 355 L432 398 L420 440 L398 448 L330 460 L300 480"/>
<path class="l" d="M270 288 L280 320 L300 340 L330 335 L380 360 L400 355"/>
<ellipse class="l" cx="395" cy="395" rx="22" ry="28"/><ellipse class="l" cx="395" cy="395" rx="10" ry="14"/>
<ellipse class="l" cx="290" cy="570" rx="20" ry="26"/><ellipse class="l" cx="290" cy="570" rx="9" ry="12"/>
<!-- tube -->
<path class="l" d="M270 470 C258 520 268 562 300 600 L320 800 L300 940 L310 1050 C330 1110 380 1122 430 1102 C462 1082 472 1042 460 1002 L432 942 L410 882 L400 752 L390 642 L380 562 L388 482"/>
<path class="l" d="M300 940 C330 965 400 975 432 942 M310 1050 C340 1070 400 1072 450 1050"/>
<path class="l" d="M460 1060 L470 1110 M470 1050 L560 1040 L700 1060"/>
<!-- bosses -->
<ellipse class="l" cx="600" cy="95" rx="62" ry="78" transform="rotate(15 600 95)"/><ellipse class="l" cx="602" cy="97" rx="36" ry="46" transform="rotate(15 602 97)"/>
<ellipse class="l" cx="650" cy="262" rx="95" ry="130" transform="rotate(15 650 262)"/><ellipse class="l" cx="652" cy="264" rx="66" ry="100" transform="rotate(15 652 264)"/>
<ellipse class="l" cx="490" cy="322" rx="30" ry="34"/><ellipse class="l" cx="490" cy="322" rx="15" ry="18"/>
<ellipse class="l" cx="490" cy="470" rx="28" ry="32"/><ellipse class="l" cx="490" cy="470" rx="14" ry="16"/>
<ellipse class="l" cx="625" cy="470" rx="30" ry="34"/><ellipse class="l" cx="625" cy="472" rx="14" ry="16"/>
<ellipse class="l" cx="508" cy="690" rx="60" ry="76" transform="rotate(15 508 690)"/><ellipse class="l" cx="508" cy="692" rx="38" ry="52" transform="rotate(15 508 692)"/>
<path class="l" d="M540 380 L600 440 L625 440 M560 330 L590 400"/>
<path class="l" d="M455 560 L470 620 L520 600 L520 560 L470 540 Z"/>
<path class="l" d="M450 830 L590 780 L585 700 M455 830 L440 620"/>
<!-- ribs and windows -->
<path class="l" d="M618 700 L800 130 M640 692 L818 140"/>
<path class="l" d="M705 680 L818 300 L825 640 Z M715 660 L812 330"/>
<path class="l" d="M865 580 L875 285 L1010 480 Z M880 560 L888 320"/>
<path class="l" d="M1020 470 L1120 200 L1125 480"/>
<path class="l" d="M930 140 L1040 200 L1125 150 M920 100 C960 150 1040 160 1100 140"/>
<path class="l" d="M625 770 L710 722 L716 802 L632 845 Z"/>
<path class="l" d="M648 880 L722 842 L746 872 L672 920 Z"/>
<!-- crank band -->
<path class="l" d="M420 940 L832 722 M420 962 L600 870 M860 800 L1125 680 M830 722 L860 800"/>
<path class="l" d="M835 700 L870 760 L980 830 L1040 860"/>
<!-- cap right -->
<path class="l" d="M990 560 L1070 530 L1125 545 M982 600 L990 700 L1050 760 L1125 745 M1000 570 L1010 690"/>
<ellipse class="l" cx="1048" cy="900" rx="40" ry="44" transform="rotate(20 1048 900)"/><ellipse class="l" cx="1048" cy="902" rx="20" ry="23"/>
<ellipse class="l" cx="945" cy="1100" rx="30" ry="34"/><ellipse class="l" cx="945" cy="1100" rx="14" ry="16"/>
<ellipse class="l" cx="990" cy="1035" rx="26" ry="30"/><ellipse class="l" cx="990" cy="1035" rx="12" ry="14"/>
<ellipse class="l" cx="1110" cy="1010" rx="30" ry="36"/>
<path class="l" d="M880 1080 L940 1000 L1000 990 L1040 1020 M870 1110 L880 1140 L930 1150"/>
<!-- lower stub -->
<path class="l" d="M582 952 L640 930 L762 1025 M572 982 L700 1062 L740 1100"/>
<ellipse class="l" cx="762" cy="1062" rx="40" ry="46" transform="rotate(20 762 1062)"/><ellipse class="l" cx="762" cy="1064" rx="20" ry="24"/>
<!-- wavy oil pan gasket -->
<path class="l" d="M390 1422 C430 1400 470 1412 500 1392 C540 1372 570 1382 600 1356 C640 1340 660 1352 700 1322 C740 1302 770 1282 800 1272 C830 1262 860 1232 890 1202"/>
<path class="l" d="M362 1482 C402 1462 442 1472 482 1452 C522 1432 562 1442 602 1412 C642 1392 682 1384 722 1362 C760 1342 790 1312 830 1302 C860 1292 880 1262 900 1250"/>
<path class="l" d="M560 1140 C582 1182 570 1222 590 1262 L600 1352 M620 1110 C640 1150 650 1200 660 1250"/>
<ellipse class="l" cx="705" cy="1192" rx="18" ry="24"/><ellipse class="l" cx="670" cy="1265" rx="18" ry="24"/>
<path class="l" d="M735 1360 L738 1470 L900 1400 L898 1192"/>
<!-- lower-left tab -->
<path class="l" d="M205 1130 C230 1150 280 1200 310 1225 L362 1240 L372 1300 L352 1400 L332 1442 L222 1382 L200 1300 Z"/>
<path class="l" d="M240 1120 L300 1200 M230 1110 L290 1180"/>
<ellipse class="l" cx="330" cy="1262" rx="18" ry="22"/><ellipse class="l" cx="348" cy="1312" rx="10" ry="12"/>
<ellipse class="l" cx="305" cy="1362" rx="16" ry="22"/><ellipse class="l" cx="335" cy="1420" rx="16" ry="20"/>
<ellipse class="l" cx="430" cy="1482" rx="20" ry="24"/><ellipse class="l" cx="430" cy="1482" rx="9" ry="12"/>
<path class="l" d="M200 1380 L332 1442 L420 1480 L440 1540 L640 1552"/>
<path class="l" d="M230 1472 L270 1500 L280 1580 L330 1640 L452 1652 M330 1640 L330 1720 M452 1500 L452 1652"/>
<path class="l" d="M360 1120 C390 1200 420 1300 440 1390"/>
<!-- bottom flange -->
<path class="l" d="M185 1680 L270 1747 H445 L1125 1370"/>
<path class="l" d="M290 1696 H450 L1125 1326"/>
<path class="l" d="M650 1520 C650 1508 672 1504 692 1510 L1125 1272 M642 1540 C646 1560 680 1566 702 1556 L720 1548"/>
<ellipse class="l" cx="685" cy="1535" rx="20" ry="12"/>
<path class="l" d="M445 1747 L450 1696 M270 1747 L260 1700"/>
</g></g>
<g clip-path="url(#c_s2_210_1150)"><g transform="translate(210.0,1150.0) scale(0.186667)"><!-- upper windows/ribs -->
<path class="l" d="M10 422 L90 75 L102 80 L96 382 L22 432 Z M25 400 L92 100"/>
<path class="l" d="M145 345 L150 52 L170 42 L240 272 L160 352 Z M160 330 L165 70"/>
<path class="l" d="M200 0 L290 262 L385 0 M215 0 L295 230"/>
<ellipse class="l" cx="425" cy="105" rx="50" ry="62" transform="rotate(15 425 105)"/><ellipse class="l" cx="427" cy="107" rx="32" ry="42" transform="rotate(15 427 107)"/>
<ellipse class="l" cx="20" cy="20" rx="30" ry="30"/><ellipse class="l" cx="15" cy="110" rx="25" ry="30"/>
<path class="l" d="M470 170 L640 80 L660 120 M490 180 L650 100"/>
<path class="l" d="M410 0 L440 30 L520 0"/>
<!-- pipe -->
<path class="l" d="M640 40 L662 122 L652 182 C660 220 680 250 720 258 C760 262 800 245 812 212 L820 182 L802 122 L782 40"/>
<path class="l" d="M652 182 C672 202 722 212 782 202 M662 122 C690 140 760 140 802 122"/>
<path class="l" d="M700 0 L720 40 M760 0 L770 40"/>
<path class="l" d="M792 240 L842 322 L872 332 L902 332 C942 352 952 402 946 442 L930 472 L902 492 L862 512 L852 602 L862 702 L882 832 L962 882 L1042 862 L1042 822 L1000 802 L960 742 L940 652 L935 552 L925 482 L945 452"/>
<path class="l" d="M805 280 L850 330 M820 270 L870 310"/>
<path class="l" d="M880 520 C895 620 910 740 962 832 M900 490 C915 600 925 720 985 820"/>
<path class="l" d="M962 882 L962 918 L1042 880 L1042 862 M962 918 L900 908"/>
<ellipse class="l" cx="825" cy="432" rx="18" ry="25"/>
<!-- crank lines -->
<path class="l" d="M20 522 L275 382 M455 297 L585 227 M130 812 L305 712"/>
<path class="l" d="M610 200 L640 180 L700 250 L760 470 L700 460 L640 260 Z"/>
<!-- caps -->
<path class="l" d="M285 350 L402 275 C432 292 472 352 502 442 C522 502 540 562 545 602 L520 612 C500 532 470 432 430 372 L380 402 C330 382 300 362 285 350 Z"/>
<path class="l" d="M418 280 C462 342 502 452 535 602"/>
<path class="l" d="M235 492 L300 457 L332 502 L347 562 L382 622 L397 682 L332 702 L302 642 L272 582 L242 542 Z"/>
<ellipse class="l" cx="352" cy="682" rx="40" ry="30" transform="rotate(-20 352 682)"/><ellipse class="l" cx="352" cy="682" rx="20" ry="14"/>
<ellipse class="l" cx="460" cy="512" rx="30" ry="35" transform="rotate(20 460 512)"/><ellipse class="l" cx="460" cy="514" rx="13" ry="16"/>
<path class="l" d="M400 562 C410 622 420 662 440 652 L462 602 L502 592"/>
<path class="l" d="M572 502 L602 482 L702 562 L722 602 L702 632 L662 622 L622 572 L582 562 Z"/>
<ellipse class="l" cx="700" cy="602" rx="30" ry="34" transform="rotate(20 700 602)"/><ellipse class="l" cx="700" cy="604" rx="12" ry="14"/>
<!-- windows -->
<path class="l" d="M720 522 L782 482 L802 502 L807 562 L742 602 Z"/>
<path class="l" d="M740 642 L807 612 L817 762 L747 802 Z M752 650 L805 625"/>
<path class="l" d="M430 692 L545 637 L552 702 L440 742 Z"/>
<path class="l" d="M430 782 L560 707 L585 712 L582 862 L440 947 Z M442 790 L560 720"/>
<!-- lower left -->
<path class="l" d="M0 702 L30 662 L62 742 L82 802"/>
<ellipse class="l" cx="95" cy="822" rx="40" ry="46" transform="rotate(20 95 822)"/><ellipse class="l" cx="95" cy="824" rx="20" ry="23"/>
<ellipse class="l" cx="50" cy="1012" rx="50" ry="60" transform="rotate(15 50 1012)"/><ellipse class="l" cx="50" cy="1014" rx="30" ry="38" transform="rotate(15 50 1014)"/>
<ellipse class="l" cx="40" cy="1222" rx="36" ry="40"/><ellipse class="l" cx="40" cy="1222" rx="18" ry="20"/>
<path class="l" d="M110 892 C130 952 142 1052 122 1182 M0 902 L100 882 M0 880 L60 860"/>
<path class="l" d="M250 1122 C250 1072 270 1047 290 1047 C315 1052 322 1092 312 1122"/>
<!-- bottom flange -->
<path class="l" d="M0 1372 L60 1342 L120 1302 L120 1277 L450 1077 C470 1122 540 1142 590 1112 L612 1082 L690 1062 L700 1002 L900 907 L962 918"/>
<path class="l" d="M0 1342 L50 1322 L60 1337 L110 1327 L120 1302"/>
<path class="l" d="M120 1277 L250 1200 L382 992 L482 1062 M382 992 L742 827 L892 847 L902 872"/>
<ellipse class="l" cx="540" cy="1040" rx="20" ry="12"/><ellipse class="l" cx="697" cy="948" rx="20" ry="12"/>
<path class="l" d="M690 1062 L685 1000"/>
</g></g>
<g clip-path="url(#c_u_100_1090)"><g transform="translate(100.0,1090.0) scale(0.177778)"><!-- bore B right -->
<ellipse class="l" cx="51" cy="53" rx="270" ry="155"/>
<ellipse class="l" cx="52" cy="66" rx="260" ry="142"/>
<ellipse class="l" cx="395" cy="60" rx="30" ry="18"/>
<ellipse class="l" cx="295" cy="190" rx="32" ry="20"/><ellipse class="l" cx="295" cy="197" rx="22" ry="10"/>
<ellipse class="l" cx="375" cy="0" rx="28" ry="14"/>
<!-- deck front edge -->
<path class="l" d="M0 378 L280 265 L312 245 L375 212 L392 165 L480 105 L590 62 L700 40 L730 20 L800 5"/>
<path class="l" d="M0 400 L275 310 L300 300 L382 240 L395 200 L485 135 L590 95 L690 72 L725 55 L800 35"/>
<path class="l" d="M270 310 V470 M300 355 V480 L380 445 V330 M300 380 L380 345 M382 240 V330"/>
<path class="l" d="M690 72 V230 L720 240 L720 55 M720 240 L790 230 M720 130 L790 110"/>
<path class="l" d="M790 0 L800 230 L812 262"/>
<!-- left bosses -->
<ellipse class="l" cx="70" cy="440" rx="55" ry="62" transform="rotate(15 70 440)"/><ellipse class="l" cx="72" cy="442" rx="35" ry="45" transform="rotate(15 72 442)"/>
<ellipse class="l" cx="110" cy="610" rx="90" ry="122" transform="rotate(15 110 610)"/><ellipse class="l" cx="112" cy="614" rx="64" ry="92" transform="rotate(15 112 614)"/>
<path class="l" d="M0 488 C30 472 90 490 125 520 L210 525"/>
<path class="l" d="M0 720 L20 760 M0 690 L35 788"/>
<!-- ribs left -->
<path class="l" d="M262 480 L180 788 M287 482 L205 788"/>
<path class="l" d="M270 788 L298 652 L320 648 L322 788 M352 788 L350 640 L378 622 L430 788"/>
<!-- central oval boss -->
<path class="l" d="M400 440 C390 330 430 230 500 200 C560 180 600 220 605 290 C610 360 590 450 560 500 C520 550 450 540 420 500"/>
<ellipse class="l" cx="505" cy="385" rx="70" ry="105" transform="rotate(15 505 385)"/>
<ellipse class="l" cx="507" cy="390" rx="48" ry="78" transform="rotate(15 507 390)"/>
<path class="l" d="M430 500 C445 545 490 560 540 545 L565 520"/>
<path class="l" d="M470 290 C500 265 540 260 570 280"/>
<ellipse class="l" cx="660" cy="352" rx="35" ry="40"/><ellipse class="l" cx="660" cy="354" rx="17" ry="20"/>
<ellipse class="l" cx="630" cy="462" rx="30" ry="35"/><ellipse class="l" cx="630" cy="464" rx="14" ry="17"/>
<path class="l" d="M680 320 L715 250 M690 330 L722 262"/>
<!-- ribs / windows center -->
<path class="l" d="M618 495 L535 788 M640 500 L558 788"/>
<path class="l" d="M700 422 L722 410 L730 760 L652 788 Z M712 430 L718 740"/>
<path class="l" d="M770 390 L800 382 L870 640 L782 702 Z"/>
<path class="l" d="M805 262 L920 602 L940 592 L1010 300 M825 262 L925 560"/>
<!-- right boss -->
<ellipse class="l" cx="912" cy="165" rx="90" ry="122" transform="rotate(15 912 165)"/>
<ellipse class="l" cx="914" cy="168" rx="60" ry="88" transform="rotate(15 914 168)"/>
<ellipse class="l" cx="1030" cy="245" rx="36" ry="40"/><ellipse class="l" cx="1030" cy="247" rx="17" ry="20"/>
<ellipse class="l" cx="1075" cy="450" rx="50" ry="58" transform="rotate(15 1075 450)"/><ellipse class="l" cx="1077" cy="452" rx="30" ry="38"/>
<path class="l" d="M1010 0 L1060 40 L1100 180 M1060 0 L1100 60 L1125 120"/>
<path class="l" d="M1040 300 L1000 420 L1020 520 M1060 350 L1125 340"/>
<path class="l" d="M920 690 L1050 632 L1125 680 M930 720 L1050 662"/>
<path class="l" d="M1050 520 L1125 480"/>
</g></g>
<g transform="translate(0.0,0.0) scale(1.000000)"><path class="t" transform="translate(376.8,763.4) scale(1.000)" d="M3.5 0 H10.5 L13.5 3 V7 L10.5 10 H3.5 L0.5 7 V3 Z M3.5 10 L0 13.5 V17.5 L3.5 21 H10.5 L14 17.5 V13.5 L10.5 10"/>
<path class="t" transform="translate(461.5,766.7) scale(1.000)" d="M0 5 L4.5 0 V21 M0 21 H9"/>
<path class="t" transform="translate(546.6,722.4) scale(1.000)" d="M3.6 21 H7.1 L14 13.1 V3.3 L10.4 0 H3.8 L0 3.3 V7.1 L3.6 10.4 H14"/>
<path class="t" transform="translate(617.4,705.0) scale(1.000)" d="M11 21 V0 L0 14 H15"/>
<path class="t" transform="translate(637.3,705.0) scale(1.000)" d="M0.5 3.5 L3.5 0 H11 L14.5 3.5 V7.5 L11 10.5 H4 L0 14 V21 H15"/>
<path class="t" transform="translate(758.0,726.0) scale(1.000)" d="M11 21 V0 L0 14 H15"/>
<path class="t" transform="translate(776.6,726.0) scale(1.000)" d="M0 3 L3 0 H11 L14 3 V7 L11 10 H5 M11 10 L14.5 13.5 V17.5 L11 21 H3 L0 18"/>
<path class="t" transform="translate(606.2,774.6) scale(1.000)" d="M0 5 L4.5 0 V21 M0 21 H9"/>
<path class="t" transform="translate(618.4,774.6) scale(1.000)" d="M0 5 L4.5 0 V21 M0 21 H9"/>
<path class="t" transform="translate(678.4,772.0) scale(1.000)" d="M0 5 L4.5 0 V21 M0 21 H9"/>
<path class="t" transform="translate(692.0,772.0) scale(1.000)" d="M0 3 L3 0 H11 L14 3 V7 L11 10 H5 M11 10 L14.5 13.5 V17.5 L11 21 H3 L0 18"/>
<path class="t" transform="translate(727.0,775.9) scale(1.000)" d="M0 5 L4.5 0 V21 M0 21 H9"/>
<path class="t" transform="translate(740.5,775.9) scale(1.000)" d="M0.5 3.5 L3.5 0 H11 L14.5 3.5 V7.5 L11 10.5 H4 L0 14 V21 H15"/>
<path class="t" transform="translate(870.5,700.0) scale(1.000)" d="M11 21 V0 L0 14 H15"/>
<path class="t" transform="translate(890.7,700.0) scale(1.000)" d="M0 3 L3 0 H11 L14 3 V7 L11 10 H5 M11 10 L14.5 13.5 V17.5 L11 21 H3 L0 18"/>
<path class="t" transform="translate(881.2,764.3) scale(1.000)" d="M11 21 V0 L0 14 H15"/>
<path class="t" transform="translate(899.8,764.3) scale(1.000)" d="M0 5 L4.5 0 V21 M0 21 H9"/>
<path class="t" transform="translate(933.3,808.8) scale(1.000)" d="M0 5 L4.5 0 V21 M0 21 H9"/>
<path class="t" transform="translate(946.4,808.8) scale(1.000)" d="M3.5 0 H9.5 L13 3.5 V17.5 L9.5 21 H3.5 L0 17.5 V3.5 Z"/>
<path class="t" transform="translate(746.0,855.7) scale(1.000)" d="M0 5 L4.5 0 V21 M0 21 H9"/>
<path class="t" transform="translate(759.0,855.7) scale(1.000)" d="M11 21 V0 L0 14 H15"/>
<path class="t" transform="translate(1028.4,859.4) scale(1.000)" d="M0 3 L3 0 H11 L14 3 V7 L11 10 H5 M11 10 L14.5 13.5 V17.5 L11 21 H3 L0 18"/>
<path class="t" transform="translate(1049.7,859.4) scale(1.000)" d="M13.5 0 H1 L0.5 9 H10.5 L14 12.5 V17.5 L10.5 21 H3.5 L0 17.5"/>
<path class="t" transform="translate(980.9,885.5) scale(1.000)" d="M0 3 L3 0 H11 L14 3 V7 L11 10 H5 M11 10 L14.5 13.5 V17.5 L11 21 H3 L0 18"/>
<path class="t" transform="translate(999.6,885.5) scale(1.000)" d="M11 21 V0 L0 14 H15"/>
<path class="t" transform="translate(781.5,885.5) scale(1.000)" d="M0.5 3.5 L3.5 0 H11 L14.5 3.5 V7.5 L11 10.5 H4 L0 14 V21 H15"/>
<path class="t" transform="translate(802.0,885.5) scale(1.000)" d="M0 3 L3 0 H11 L14 3 V7 L11 10 H5 M11 10 L14.5 13.5 V17.5 L11 21 H3 L0 18"/>
<path class="t" transform="translate(761.0,909.0) scale(1.000)" d="M0.5 3.5 L3.5 0 H11 L14.5 3.5 V7.5 L11 10.5 H4 L0 14 V21 H15"/>
<path class="t" transform="translate(781.5,909.0) scale(1.000)" d="M0.5 3.5 L3.5 0 H11 L14.5 3.5 V7.5 L11 10.5 H4 L0 14 V21 H15"/>
<path class="t" transform="translate(919.5,921.0) scale(1.000)" d="M0 3 L3 0 H11 L14 3 V7 L11 10 H5 M11 10 L14.5 13.5 V17.5 L11 21 H3 L0 18"/>
<path class="t" transform="translate(896.5,952.2) scale(1.000)" d="M0 5 L4.5 0 V21 M0 21 H9"/>
<path class="t" transform="translate(910.8,952.2) scale(1.000)" d="M13.5 0 H1 L0.5 9 H10.5 L14 12.5 V17.5 L10.5 21 H3.5 L0 17.5"/>
<path class="t" transform="translate(845.4,995.7) scale(1.000)" d="M0 5 L4.5 0 V21 M0 21 H9"/>
<path class="t" transform="translate(859.8,995.7) scale(1.000)" d="M10.4 0 H6.9 L0 7.9 V17.7 L3.6 21 H10.4 L14 17.7 V13.9 L10.4 10.6 H0"/>
<path class="t" transform="translate(845.4,1033.5) scale(1.000)" d="M0 5 L4.5 0 V21 M0 21 H9"/>
<path class="t" transform="translate(857.9,1033.5) scale(1.000)" d="M0 0 H14 L5 21"/>
<path class="t" transform="translate(734.0,1029.6) scale(1.000)" d="M0 3 L3 0 H11 L14 3 V7 L11 10 H5 M11 10 L14.5 13.5 V17.5 L11 21 H3 L0 18"/>
<path class="t" transform="translate(755.5,1029.6) scale(1.000)" d="M10.4 0 H6.9 L0 7.9 V17.7 L3.6 21 H10.4 L14 17.7 V13.9 L10.4 10.6 H0"/>
<path class="t" transform="translate(810.0,1081.8) scale(1.000)" d="M0 3 L3 0 H11 L14 3 V7 L11 10 H5 M11 10 L14.5 13.5 V17.5 L11 21 H3 L0 18"/>
<path class="t" transform="translate(827.0,1081.8) scale(1.000)" d="M3.5 0 H9.5 L13 3.5 V17.5 L9.5 21 H3.5 L0 17.5 V3.5 Z"/>
<path class="t" transform="translate(761.8,1167.0) scale(1.000)" d="M0 3 L3 0 H11 L14 3 V7 L11 10 H5 M11 10 L14.5 13.5 V17.5 L11 21 H3 L0 18"/>
<path class="t" transform="translate(780.0,1167.0) scale(1.000)" d="M0 5 L4.5 0 V21 M0 21 H9"/>
<path class="t" transform="translate(666.6,1203.3) scale(1.000)" d="M0 5 L4.5 0 V21 M0 21 H9"/>
<path class="t" transform="translate(682.5,1203.3) scale(1.000)" d="M3.5 0 H10.5 L13.5 3 V7 L10.5 10 H3.5 L0.5 7 V3 Z M3.5 10 L0 13.5 V17.5 L3.5 21 H10.5 L14 17.5 V13.5 L10.5 10"/>
<path class="t" transform="translate(633.8,1239.6) scale(1.000)" d="M0.5 3.5 L3.5 0 H11 L14.5 3.5 V7.5 L11 10.5 H4 L0 14 V21 H15"/>
<path class="t" transform="translate(697.8,1241.7) scale(1.000)" d="M0.5 3.5 L3.5 0 H11 L14.5 3.5 V7.5 L11 10.5 H4 L0 14 V21 H15"/>
<path class="t" transform="translate(718.8,1241.7) scale(1.000)" d="M0 0 H14 L5 21"/>
<path class="t" transform="translate(449.0,1263.0) scale(1.000)" d="M0.5 3.5 L3.5 0 H11 L14.5 3.5 V7.5 L11 10.5 H4 L0 14 V21 H15"/>
<path class="t" transform="translate(469.0,1263.0) scale(1.000)" d="M3.5 0 H9.5 L13 3.5 V17.5 L9.5 21 H3.5 L0 17.5 V3.5 Z"/>
<path class="t" transform="translate(618.4,1270.3) scale(1.000)" d="M0.5 3.5 L3.5 0 H11 L14.5 3.5 V7.5 L11 10.5 H4 L0 14 V21 H15"/>
<path class="t" transform="translate(638.4,1270.3) scale(1.000)" d="M0 5 L4.5 0 V21 M0 21 H9"/>
<path class="t" transform="translate(528.0,1312.0) scale(1.000)" d="M0 5 L4.5 0 V21 M0 21 H9"/>
<path class="t" transform="translate(544.7,1312.0) scale(1.000)" d="M3.6 21 H7.1 L14 13.1 V3.3 L10.4 0 H3.8 L0 3.3 V7.1 L3.6 10.4 H14"/>
<path class="t" transform="translate(429.0,1346.2) scale(1.000)" d="M0.5 3.5 L3.5 0 H11 L14.5 3.5 V7.5 L11 10.5 H4 L0 14 V21 H15"/>
<path class="t" transform="translate(448.1,1346.2) scale(1.000)" d="M11 21 V0 L0 14 H15"/>
<path class="t" transform="translate(786.0,1386.8) scale(1.000)" d="M0.5 3.5 L3.5 0 H11 L14.5 3.5 V7.5 L11 10.5 H4 L0 14 V21 H15"/>
<path class="t" transform="translate(808.4,1386.8) scale(1.000)" d="M3.5 0 H10.5 L13.5 3 V7 L10.5 10 H3.5 L0.5 7 V3 Z M3.5 10 L0 13.5 V17.5 L3.5 21 H10.5 L14 17.5 V13.5 L10.5 10"/>
<path class="t" transform="translate(741.3,1423.0) scale(1.000)" d="M0.5 3.5 L3.5 0 H11 L14.5 3.5 V7.5 L11 10.5 H4 L0 14 V21 H15"/>
<path class="t" transform="translate(763.6,1423.0) scale(1.000)" d="M3.6 21 H7.1 L14 13.1 V3.3 L10.4 0 H3.8 L0 3.3 V7.1 L3.6 10.4 H14"/>
<path class="t" transform="translate(471.7,1444.4) scale(1.000)" d="M0.5 3.5 L3.5 0 H11 L14.5 3.5 V7.5 L11 10.5 H4 L0 14 V21 H15"/>
<path class="t" transform="translate(493.5,1444.4) scale(1.000)" d="M13.5 0 H1 L0.5 9 H10.5 L14 12.5 V17.5 L10.5 21 H3.5 L0 17.5"/>
<path class="t" transform="translate(417.0,1177.7) scale(1.000)" d="M0 0 H14 L5 21"/>
<path class="t" transform="translate(418.9,962.8) scale(1.000)" d="M13.5 0 H1 L0.5 9 H10.5 L14 12.5 V17.5 L10.5 21 H3.5 L0 17.5"/>
<path class="t" transform="translate(258.8,928.5) scale(1.000)" d="M10.4 0 H6.9 L0 7.9 V17.7 L3.6 21 H10.4 L14 17.7 V13.9 L10.4 10.6 H0"/>
<path class="t" transform="translate(291.0,900.0) scale(1.000)" d="M11 21 V0 L0 14 H15"/>
<polygon fill="#1a1a1a" points="443.3,766.0 446.1,773.6 454.2,773.9 447.9,779.0 450.1,786.8 443.3,782.3 436.5,786.8 438.7,779.0 432.4,773.9 440.5,773.6"/>
<polygon fill="#1a1a1a" points="399.5,960.5 402.3,968.1 410.4,968.4 404.1,973.5 406.3,981.3 399.5,976.8 392.7,981.3 394.9,973.5 388.6,968.4 396.7,968.1"/>
<polygon fill="#1a1a1a" points="271.9,900.0 274.7,907.6 282.8,907.9 276.5,913.0 278.7,920.8 271.9,916.3 265.1,920.8 267.3,913.0 261.0,907.9 269.1,907.6"/>
<rect x="1025.3" y="886.1" width="43.0" height="3" fill="#1a1a1a"/>
<rect x="975.6" y="910.5" width="43.60000000000002" height="3" fill="#1a1a1a"/>
<rect x="730" y="1055.8" width="44" height="3" fill="#1a1a1a"/>
<rect x="692.2" y="1267.1" width="44.799999999999955" height="3" fill="#1a1a1a"/>
<path class="l" d="M490.9 1400 V1434"/>
<path class="t" transform="translate(393.7,1490.0) scale(0.667)" d="M0.5 3.5 L3.5 0 H11 L14.5 3.5 V7.5 L11 10.5 H4 L0 14 V21 H15"/>
<path class="t" transform="translate(405.8,1490.0) scale(0.667)" d="M3.5 0 H9.5 L13 3.5 V17.5 L9.5 21 H3.5 L0 17.5 V3.5 Z"/>
<path class="t" d="M369.4 1497.2 H378.6 M430 1497.2 H439"/>
<path class="t" d="M1022.6 1486.5 H1032 C1036 1486.5 1037 1488.5 1037 1490.8 C1037 1493.5 1035 1495.1 1031 1495.1 H1024.5 M1031 1495.1 C1036 1495.1 1038 1497.5 1038 1500.0 C1038 1503.0 1036 1504.7 1032 1504.7 H1022.6 M1024.5 1486.5 V1504.7"/>
<path class="t" d="M1041.3 1495.6 H1055"/>
<path class="t" d="M1060 1504.7 V1497.5 L1067.2 1486.5 L1074.3 1497.5 V1504.7 M1060 1498.0 H1074.3"/>
<path class="t" transform="translate(1079.0,1486.5) scale(0.867)" d="M0 5 L4.5 0 V21 M0 21 H9"/>
<path class="t" transform="translate(1092.4,1486.5) scale(0.867)" d="M0 5 L4.5 0 V21 M0 21 H9"/>
<path class="t" transform="translate(1105.9,1486.5) scale(0.867)" d="M13.5 0 H1 L0.5 9 H10.5 L14 12.5 V17.5 L10.5 21 H3.5 L0 17.5"/>
<path class="t" d="M1123 1504.7 V1497.5 L1130 1486.5"/>
<path class="t" d="M0 552.2 H2.5 M0 573.2 H2.5 M8.5 552.2 V573.2 H22.4 M75.7 573.2 V566.3 L82.7 552.2 L90.5 566.3 V573.2 M75.7 566.3 H90.5"/>
<g font-family="Liberation Mono, monospace" font-size="20" fill="#444"><text x="893" y="542.5" textLength="85" lengthAdjust="spacingAndGlyphs">JOURNAL</text><text x="992.5" y="542.5" textLength="68.5" lengthAdjust="spacingAndGlyphs">PUB.NO.</text><text x="1086" y="542.5" textLength="42" lengthAdjust="spacingAndGlyphs">USA</text><text x="893" y="572" textLength="85" lengthAdjust="spacingAndGlyphs">CATALOG</text><text x="992.5" y="572" textLength="68.5" lengthAdjust="spacingAndGlyphs">PUB.NO.</text><text x="1077" y="572" textLength="62" lengthAdjust="spacingAndGlyphs">PU410</text></g>
</g>
</svg>
</body></html>
